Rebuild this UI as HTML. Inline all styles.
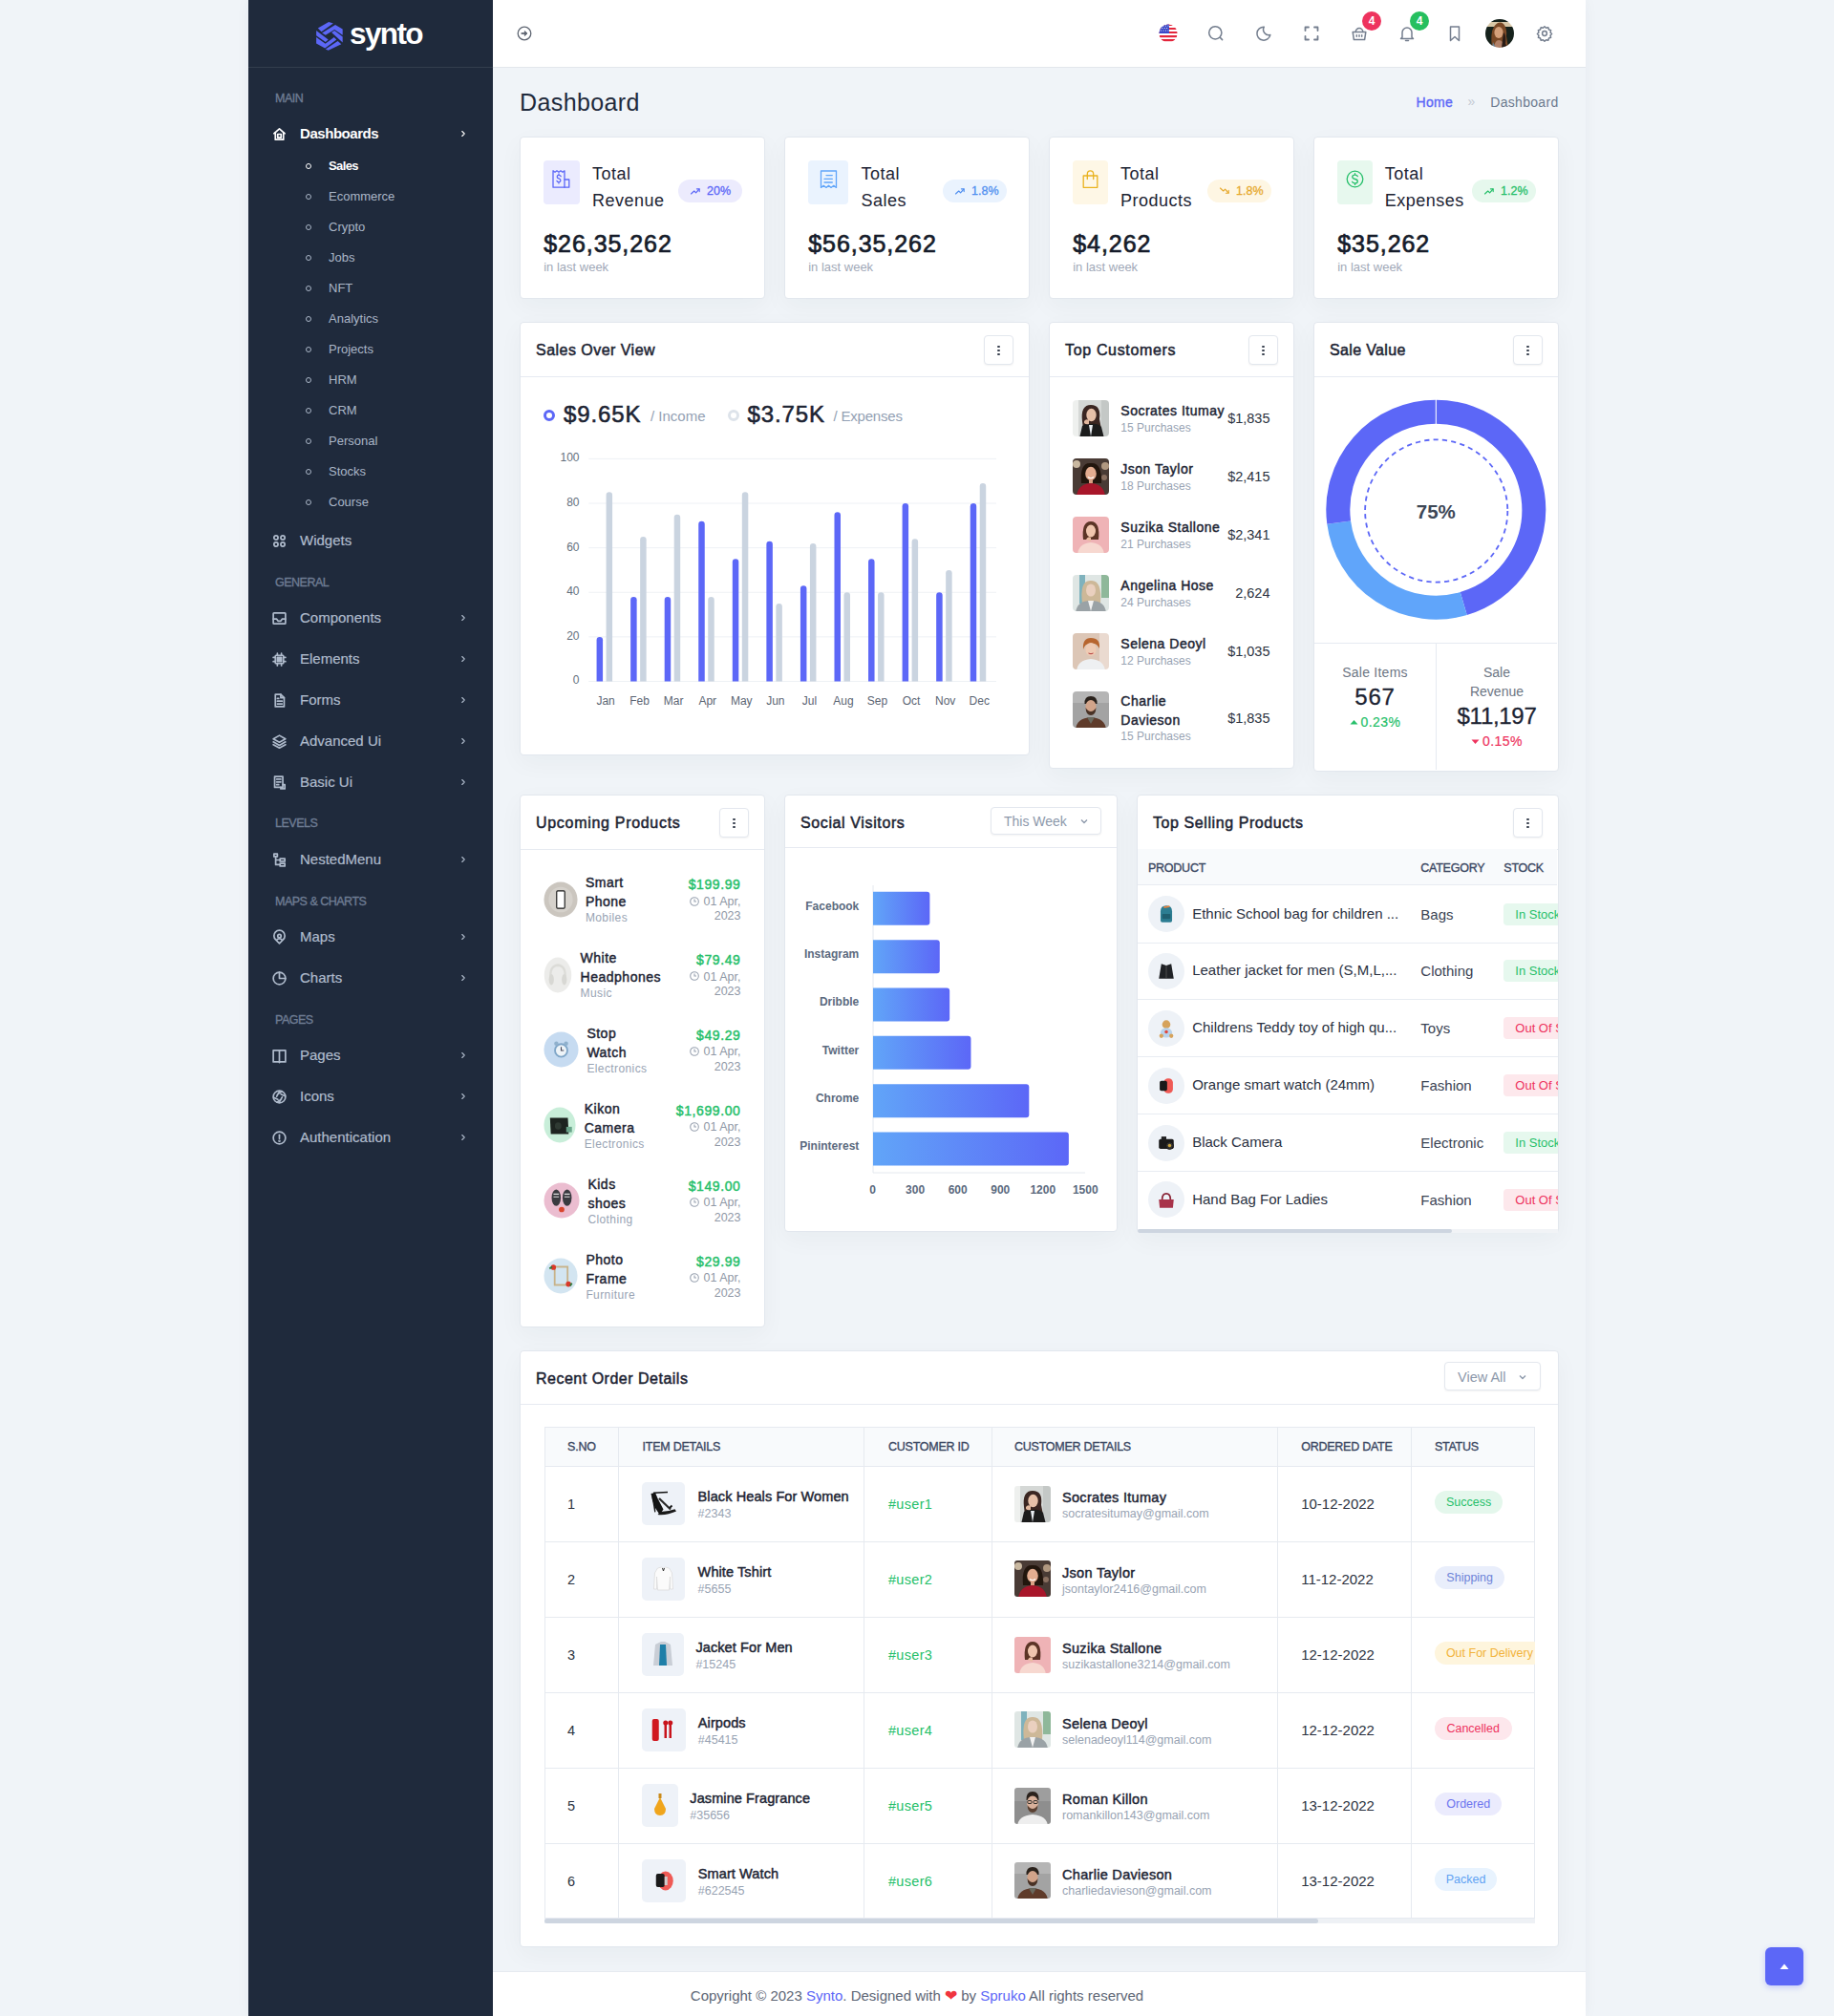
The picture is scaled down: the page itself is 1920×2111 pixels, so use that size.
<!DOCTYPE html><html><head><meta charset="utf-8"><style>
*{box-sizing:border-box;margin:0;padding:0}
html,body{width:1920px;height:2111px;overflow:hidden}
body{background:#f0f4f8;font-family:"Liberation Sans",sans-serif;color:#1d2433;position:relative}
.abs{position:absolute}
.nw{white-space:nowrap}
svg{display:block}
#sb{position:absolute;left:260px;top:0;width:256px;height:2111px;background:#1f2a3c;z-index:5}
#sb .logo{position:absolute;left:0;top:0;width:256px;height:71px;border-bottom:1px solid rgba(255,255,255,.09)}
.cat{position:absolute;left:28px;font-size:12.5px;color:#6e7c93;-webkit-text-stroke:.35px #6e7c93;letter-spacing:-.5px;line-height:14px;white-space:nowrap}
.mi{position:absolute;left:24px;width:208px;height:20px;line-height:20px;font-size:15px;color:#afbbcc;-webkit-text-stroke:.2px currentColor}
.mi svg{position:absolute;left:0;top:2px}
.mi span{position:absolute;left:30px;top:0;white-space:nowrap}
.mi svg.chev{left:196px;top:5px}
.sub{position:absolute;left:60px;width:150px;height:16px;line-height:16px;font-size:13px;color:#aab6c7}
.sub i{position:absolute;left:0;top:5px;width:6px;height:6px;border:1.3px solid #aab6c7;border-radius:50%}
.sub span{position:absolute;left:24px;top:0;white-space:nowrap}
#hd{position:absolute;left:516px;top:0;width:1144px;height:71px;background:#fff;border-bottom:1px solid #e2e6ec;z-index:3}
.hi{position:absolute}
.bn{position:absolute;top:12px;width:20px;height:20px;border-radius:50%;color:#fff;font-size:12px;font-weight:bold;text-align:center;line-height:20px}
.card{position:absolute;background:#fff;border:1px solid #e2e7ee;border-radius:4px;box-shadow:0 8px 26px rgba(30,41,59,.04)}
.ch{position:absolute;left:0;top:0;right:0;height:57px;border-bottom:1px solid #e6eaf1}
.ct{position:absolute;left:16px;top:20px;font-size:16px;-webkit-text-stroke:.5px #1d2433;letter-spacing:.45px;color:#1d2433;line-height:18px;white-space:nowrap}
.keb{position:absolute;top:12.5px;right:16px;width:31px;height:31px;border:1px solid #e3e7ee;border-radius:4px;box-shadow:0 1px 2px rgba(0,0,0,.05);background:#fff}
.keb i{position:absolute;left:13.3px;width:2.4px;height:2.4px;border-radius:50%;background:#3a4250}
.stat .ib{position:absolute;left:24px;top:24px;width:38px;height:45.5px;border-radius:4px}
.stat .ib svg{position:absolute;left:9.5px;top:9.5px}
.stat .tt{position:absolute;left:74.5px;top:23.8px;letter-spacing:.5px;font-size:18px;line-height:28px;color:#1d2433;white-space:nowrap}
.stat .bd{position:absolute;right:23px;top:44px;width:67px;height:24px;border-radius:12px;font-size:12.5px;line-height:24px}
.stat .bd svg{position:absolute;left:12px;top:7px}
.stat .bd span{position:absolute;left:30px;top:0;-webkit-text-stroke:.3px currentColor}
.stat .val{position:absolute;left:24.2px;top:97.3px;font-size:25px;-webkit-text-stroke:.7px #161c2a;line-height:28px;color:#161c2a;letter-spacing:.95px;white-space:nowrap}
.stat .lw{position:absolute;left:24.2px;top:128px;font-size:13px;line-height:16px;color:#a1a9b8;white-space:nowrap}
</style></head><body><div class="abs" style="left:260px;top:0;width:1400px;height:2111px;box-shadow:0 0 14px rgba(30,41,59,.045)"></div><div id="sb"><div class="logo">
<svg class="abs" style="left:68px;top:20px" width="34" height="36" viewBox="0 0 34 36"><g fill="#5c67f7">
      <path d="M4.8 9.6 L16.1 3.1 L20.9 4.6 L8.5 13.3 Z"/>
      <path d="M9.1 14.4 L23 6.1 L30.7 10.4 L30.7 16.7 L22.2 11.1 L12.8 16.7 Z"/>
      <path d="M19.1 14.1 L22.2 12 L30.7 18.5 L30.7 24.6 Z"/>
      <path d="M3.1 12 L15.7 21.5 L12.8 23.9 L3.1 17.2 Z"/>
      <path d="M3.1 18.9 L12.6 25.7 L21.7 19.1 L24.3 21.5 L12.2 30.4 L3.1 25.6 Z"/>
      <path d="M12.8 31.5 L25.6 23.1 L29.3 26.3 L15.7 32.8 Z"/></g></svg>
<div class="abs" style="left:106px;top:16.5px;font-size:31.5px;font-weight:bold;color:#fff;letter-spacing:-1.6px;line-height:36px">synto</div>
</div>
<div class="cat" style="top:95.6px">MAIN</div>
<div class="cat" style="top:602.6px">GENERAL</div>
<div class="cat" style="top:855.3px">LEVELS</div>
<div class="cat" style="top:936.8px">MAPS &amp; CHARTS</div>
<div class="cat" style="top:1060.5px">PAGES</div>
<div class="mi" style="top:129.8px;color:#ffffff;font-weight:bold;letter-spacing:-.45px;-webkit-text-stroke:0px"><svg width="17" height="17" viewBox="0 0 24 24" fill="none" stroke="#ffffff" stroke-width="2.4" stroke-linecap="round" stroke-linejoin="round" ><path d="M4 11 L12 4 L20 11"/><path d="M6 9.5 V20 H18 V9.5"/><rect x="9.5" y="12" width="5" height="5"/></svg><span>Dashboards</span><svg class="chev" width="10" height="10" viewBox="0 0 24 24" fill="none" stroke="#ffffff" stroke-width="2.6" stroke-linecap="round" stroke-linejoin="round" ><path d="M9 6 L15 12 L9 18"/></svg></div>
<div class="mi" style="top:556.3px;color:#afbbcc"><svg width="17" height="17" viewBox="0 0 24 24" fill="none" stroke="#afbbcc" stroke-width="2.4" stroke-linecap="round" stroke-linejoin="round" ><circle cx="7" cy="7" r="3"/><circle cx="17" cy="7" r="3"/><circle cx="7" cy="17" r="3"/><circle cx="17" cy="17" r="3"/></svg><span>Widgets</span></div>
<div class="mi" style="top:637.1px;color:#afbbcc"><svg width="17" height="17" viewBox="0 0 24 24" fill="none" stroke="#afbbcc" stroke-width="2.4" stroke-linecap="round" stroke-linejoin="round" ><rect x="3" y="4" width="18" height="16" rx="1"/><path d="M3 13 H8 L10 16 H14 L16 13 H21"/></svg><span>Components</span><svg class="chev" width="10" height="10" viewBox="0 0 24 24" fill="none" stroke="#afbbcc" stroke-width="2.6" stroke-linecap="round" stroke-linejoin="round" ><path d="M9 6 L15 12 L9 18"/></svg></div>
<div class="mi" style="top:680.0px;color:#afbbcc"><svg width="17" height="17" viewBox="0 0 24 24" fill="none" stroke="#afbbcc" stroke-width="2.4" stroke-linecap="round" stroke-linejoin="round" ><rect x="6" y="6" width="12" height="12" rx="1"/><rect x="9" y="9" width="6" height="6" fill="currentColor"/><path d="M9 3v3M15 3v3M9 18v3M15 18v3M3 9h3M3 15h3M18 9h3M18 15h3"/></svg><span>Elements</span><svg class="chev" width="10" height="10" viewBox="0 0 24 24" fill="none" stroke="#afbbcc" stroke-width="2.6" stroke-linecap="round" stroke-linejoin="round" ><path d="M9 6 L15 12 L9 18"/></svg></div>
<div class="mi" style="top:723.0px;color:#afbbcc"><svg width="17" height="17" viewBox="0 0 24 24" fill="none" stroke="#afbbcc" stroke-width="2.4" stroke-linecap="round" stroke-linejoin="round" ><path d="M6 3 H14 L19 8 V21 H6 Z"/><path d="M14 3 V8 H19"/><path d="M9 13 H16 M9 17 H16 M9 9 H11"/></svg><span>Forms</span><svg class="chev" width="10" height="10" viewBox="0 0 24 24" fill="none" stroke="#afbbcc" stroke-width="2.6" stroke-linecap="round" stroke-linejoin="round" ><path d="M9 6 L15 12 L9 18"/></svg></div>
<div class="mi" style="top:766.0px;color:#afbbcc"><svg width="17" height="17" viewBox="0 0 24 24" fill="none" stroke="#afbbcc" stroke-width="2.4" stroke-linecap="round" stroke-linejoin="round" ><path d="M12 3 L21 8 L12 13 L3 8 Z"/><path d="M3 12.5 L12 17.5 L21 12.5"/><path d="M3 16.5 L12 21.5 L21 16.5"/></svg><span>Advanced Ui</span><svg class="chev" width="10" height="10" viewBox="0 0 24 24" fill="none" stroke="#afbbcc" stroke-width="2.6" stroke-linecap="round" stroke-linejoin="round" ><path d="M9 6 L15 12 L9 18"/></svg></div>
<div class="mi" style="top:809.0px;color:#afbbcc"><svg width="17" height="17" viewBox="0 0 24 24" fill="none" stroke="#afbbcc" stroke-width="2.4" stroke-linecap="round" stroke-linejoin="round" ><path d="M5 3 H17 V19 H5 Z"/><path d="M8 7 H14 M8 11 H14 M8 15 H11"/><path d="M17 15 H20 V21 H14 V19"/></svg><span>Basic Ui</span><svg class="chev" width="10" height="10" viewBox="0 0 24 24" fill="none" stroke="#afbbcc" stroke-width="2.6" stroke-linecap="round" stroke-linejoin="round" ><path d="M9 6 L15 12 L9 18"/></svg></div>
<div class="mi" style="top:890.2px;color:#afbbcc"><svg width="17" height="17" viewBox="0 0 24 24" fill="none" stroke="#afbbcc" stroke-width="2.4" stroke-linecap="round" stroke-linejoin="round" ><rect x="4" y="3" width="5" height="4"/><rect x="13" y="10" width="7" height="4"/><rect x="13" y="17" width="7" height="4"/><path d="M6.5 7 V19 H13 M6.5 12 H13"/></svg><span>NestedMenu</span><svg class="chev" width="10" height="10" viewBox="0 0 24 24" fill="none" stroke="#afbbcc" stroke-width="2.6" stroke-linecap="round" stroke-linejoin="round" ><path d="M9 6 L15 12 L9 18"/></svg></div>
<div class="mi" style="top:971.2px;color:#afbbcc"><svg width="17" height="17" viewBox="0 0 24 24" fill="none" stroke="#afbbcc" stroke-width="2.4" stroke-linecap="round" stroke-linejoin="round" ><path d="M12 21 L6.5 15.5 A8 8 0 1 1 17.5 15.5 Z"/><circle cx="12" cy="10" r="2.5"/><path d="M8 16 A5 5 0 0 1 16 16"/></svg><span>Maps</span><svg class="chev" width="10" height="10" viewBox="0 0 24 24" fill="none" stroke="#afbbcc" stroke-width="2.6" stroke-linecap="round" stroke-linejoin="round" ><path d="M9 6 L15 12 L9 18"/></svg></div>
<div class="mi" style="top:1014.2px;color:#afbbcc"><svg width="17" height="17" viewBox="0 0 24 24" fill="none" stroke="#afbbcc" stroke-width="2.4" stroke-linecap="round" stroke-linejoin="round" ><circle cx="12" cy="12" r="9"/><path d="M12 3 V12 H21"/></svg><span>Charts</span><svg class="chev" width="10" height="10" viewBox="0 0 24 24" fill="none" stroke="#afbbcc" stroke-width="2.6" stroke-linecap="round" stroke-linejoin="round" ><path d="M9 6 L15 12 L9 18"/></svg></div>
<div class="mi" style="top:1095.2px;color:#afbbcc"><svg width="17" height="17" viewBox="0 0 24 24" fill="none" stroke="#afbbcc" stroke-width="2.4" stroke-linecap="round" stroke-linejoin="round" ><path d="M3 4 H12 V21 H3 Z"/><path d="M12 4 H21 V21 H12"/><path d="M12 21 V22"/></svg><span>Pages</span><svg class="chev" width="10" height="10" viewBox="0 0 24 24" fill="none" stroke="#afbbcc" stroke-width="2.6" stroke-linecap="round" stroke-linejoin="round" ><path d="M9 6 L15 12 L9 18"/></svg></div>
<div class="mi" style="top:1138.2px;color:#afbbcc"><svg width="17" height="17" viewBox="0 0 24 24" fill="none" stroke="#afbbcc" stroke-width="2.4" stroke-linecap="round" stroke-linejoin="round" ><circle cx="12" cy="12" r="9"/><path d="M14.3 8 L20.5 11 M9.7 16 L3.5 13 M16 12.5 L12.5 19 M8 11.5 L11.5 5 M15 15.3 L8.5 20 M9 8.7 L15.5 4"/></svg><span>Icons</span><svg class="chev" width="10" height="10" viewBox="0 0 24 24" fill="none" stroke="#afbbcc" stroke-width="2.6" stroke-linecap="round" stroke-linejoin="round" ><path d="M9 6 L15 12 L9 18"/></svg></div>
<div class="mi" style="top:1181.2px;color:#afbbcc"><svg width="17" height="17" viewBox="0 0 24 24" fill="none" stroke="#afbbcc" stroke-width="2.4" stroke-linecap="round" stroke-linejoin="round" ><circle cx="12" cy="12" r="9"/><path d="M12 7.5 V13"/><circle cx="12" cy="16.5" r="0.6" fill="currentColor"/></svg><span>Authentication</span><svg class="chev" width="10" height="10" viewBox="0 0 24 24" fill="none" stroke="#afbbcc" stroke-width="2.6" stroke-linecap="round" stroke-linejoin="round" ><path d="M9 6 L15 12 L9 18"/></svg></div>
<div class="sub" style="top:165.8px;color:#fff;font-weight:bold;letter-spacing:-.6px"><i style="border-color:#fff"></i><span>Sales</span></div>
<div class="sub" style="top:197.8px"><i></i><span>Ecommerce</span></div>
<div class="sub" style="top:229.8px"><i></i><span>Crypto</span></div>
<div class="sub" style="top:261.8px"><i></i><span>Jobs</span></div>
<div class="sub" style="top:293.8px"><i></i><span>NFT</span></div>
<div class="sub" style="top:325.8px"><i></i><span>Analytics</span></div>
<div class="sub" style="top:357.8px"><i></i><span>Projects</span></div>
<div class="sub" style="top:389.8px"><i></i><span>HRM</span></div>
<div class="sub" style="top:421.8px"><i></i><span>CRM</span></div>
<div class="sub" style="top:453.8px"><i></i><span>Personal</span></div>
<div class="sub" style="top:485.8px"><i></i><span>Stocks</span></div>
<div class="sub" style="top:517.8px"><i></i><span>Course</span></div>
</div><div id="hd">
<svg class="hi" style="left:25px;top:27px" width="16" height="16" viewBox="0 0 16 16" fill="none" stroke="#5f6672" stroke-width="1.3"><circle cx="8" cy="8" r="6.8"/><path d="M4.6 8 H10.2" stroke-width="1.8"/><path d="M8.3 5.6 L10.9 8 L8.3 10.4 Z" fill="#5f6672" stroke-width="1"/></svg>
<svg class="hi" style="left:696.8px;top:25px" width="20" height="20" viewBox="0 0 20 20">
      <defs><clipPath id="fc"><circle cx="10" cy="10" r="9.6"/></clipPath></defs>
      <g clip-path="url(#fc)"><rect width="20" height="20" fill="#fff"/>
      <rect y="0" width="20" height="2" fill="#e3263c"/><rect y="4" width="20" height="2" fill="#e3263c"/>
      <rect y="8" width="20" height="2" fill="#e3263c"/><rect y="12" width="20" height="2.2" fill="#e3263c"/>
      <rect y="16" width="20" height="2.2" fill="#e3263c"/>
      <rect x="0" y="0" width="11" height="10" fill="#3b48c8"/>
      <g fill="#fff"><circle cx="2.5" cy="2" r=".6"/><circle cx="5" cy="2" r=".6"/><circle cx="7.5" cy="2" r=".6"/><circle cx="10" cy="2" r=".6"/>
      <circle cx="3.7" cy="4.5" r=".6"/><circle cx="6.2" cy="4.5" r=".6"/><circle cx="8.7" cy="4.5" r=".6"/>
      <circle cx="2.5" cy="7" r=".6"/><circle cx="5" cy="7" r=".6"/><circle cx="7.5" cy="7" r=".6"/><circle cx="10" cy="7" r=".6"/></g></g></svg>
<svg class="hi" style="left:746.5px;top:25px" width="20" height="20" viewBox="0 0 20 20" fill="none" stroke="#747e8e" stroke-width="1.5" stroke-linecap="round" stroke-linejoin="round"><circle cx="9.3" cy="9.3" r="6.6"/><path d="M14.6 14.6 L16.6 16.6"/></svg>
<svg class="hi" style="left:796.8px;top:25px" width="20" height="20" viewBox="0 0 20 20" fill="none" stroke="#747e8e" stroke-width="1.5" stroke-linecap="round" stroke-linejoin="round"><path d="M10.3 3.2 A7 7 0 1 0 16.8 11.6 A5.8 5.8 0 0 1 10.3 3.2 Z"/></svg>
<svg class="hi" style="left:847.0px;top:25px" width="20" height="20" viewBox="0 0 20 20" fill="none" stroke="#747e8e" stroke-width="1.8" stroke-linecap="round" stroke-linejoin="round"><path d="M3.5 7 V3.5 H7 M13 3.5 H16.5 V7 M16.5 13 V16.5 H13 M7 16.5 H3.5 V13"/></svg>
<svg class="hi" style="left:896.7px;top:25px" width="20" height="20" viewBox="0 0 20 20" fill="none" stroke="#747e8e" stroke-width="1.5" stroke-linecap="round" stroke-linejoin="round"><path d="M3.2 8.6 H16.8 L15.6 16.6 H4.4 Z"/><path d="M6.2 8.6 A3.8 4.2 0 0 1 13.8 8.6"/><path d="M7.3 11.8 V13.2 M10 11.8 V13.2 M12.7 11.8 V13.2"/></svg>
<svg class="hi" style="left:947.0px;top:25px" width="20" height="20" viewBox="0 0 20 20" fill="none" stroke="#747e8e" stroke-width="1.5" stroke-linecap="round" stroke-linejoin="round"><path d="M5 14 V9 A5 5 0 0 1 15 9 V14 L16.5 15.5 H3.5 Z"/><path d="M8.5 17.5 H11.5"/></svg>
<svg class="hi" style="left:996.7px;top:25px" width="20" height="20" viewBox="0 0 20 20" fill="none" stroke="#747e8e" stroke-width="1.5" stroke-linecap="round" stroke-linejoin="round"><path d="M5.5 3 H14.5 V17.5 L10 13.5 L5.5 17.5 Z"/></svg>
<svg class="hi" style="left:1091.0px;top:25px" width="20" height="20" viewBox="0 0 20 20" fill="none" stroke="#747e8e" stroke-width="1.5" stroke-linecap="round" stroke-linejoin="round"><circle cx="10" cy="10" r="2.4"/><path d="M10 2.8 L11.6 4.3 L13.8 3.8 L14.5 6 L16.6 6.7 L16.1 8.9 L17.6 10.5 L16.1 12.1 L16.6 14.3 L14.5 15 L13.8 17.2 L11.6 16.7 L10 18.2 L8.4 16.7 L6.2 17.2 L5.5 15 L3.4 14.3 L3.9 12.1 L2.4 10.5 L3.9 8.9 L3.4 6.7 L5.5 6 L6.2 3.8 L8.4 4.3 Z"/></svg>
<svg class="hi" style="left:1038.8px;top:20px" width="30" height="30" viewBox="0 0 30 30">
      <defs><clipPath id="av0"><circle cx="15" cy="15" r="15"/></clipPath><filter id="avb"><feGaussianBlur stdDeviation=".6"/></filter></defs>
      <g clip-path="url(#av0)"><g filter="url(#avb)"><rect width="30" height="30" fill="#15201a"/><rect x="0" y="3" width="30" height="5" fill="#d8c8a8"/>
      <path d="M7 30 Q5 14 9 8 Q14 1 19 5 Q23 9 22 18 L24 30 Z" fill="#7a4a26"/>
      <ellipse cx="14" cy="14" rx="4.6" ry="6" fill="#d4a07a"/>
      <path d="M9 30 Q10 22 14 22 Q19 22 20 30 Z" fill="#b08068"/><path d="M7 30 L8 24 L11 30 Z" fill="#6b8090"/>
      <path d="M19 14 Q22 16 21 26 L24 30 L17 30 Z" fill="#2a1a14"/></g></g></svg>
<div class="bn" style="left:910px;background:#ee335e">4</div>
<div class="bn" style="left:960px;background:#26bf5f">4</div>
</div><div class="abs nw" style="left:544px;top:91px;font-size:25px;line-height:32px;color:#1f2a3c;letter-spacing:.4px">Dashboard</div>
<div class="abs nw" style="left:1482.60px;top:97.85px;font-size:14px;line-height:18px;color:#5c67f7;-webkit-text-stroke:.35px #5c67f7;letter-spacing:.3px">Home</div>
<div class="abs nw" style="left:1536.50px;top:97.35px;font-size:14px;line-height:18px;color:#c3c9d3">&raquo;</div>
<div class="abs nw" style="left:1511.50px;width:120px;top:97.85px;font-size:14px;line-height:18px;text-align:right;color:#6c7a8e;letter-spacing:.3px">Dashboard</div>
<div class="card stat" style="left:544px;top:143px;width:257px;height:170px">
<div class="ib" style="left:24.2px;width:37.5px;background:#ebebfe"><svg style="left:9.25px" width="19" height="19" viewBox="0 0 19 19" fill="none" stroke="#5c67f7" stroke-width="1.3" stroke-linecap="round" stroke-linejoin="round" ><path d="M1 0.8 V18.2 H13 V0.8 L11 2.3 L9 0.8 L7 2.3 L5 0.8 L3 2.3 Z"/><path d="M13 10 H17.8 V18.2 H13"/><path d="M9.2 6.6 Q8.6 5.4 7 5.4 Q5.2 5.4 5.2 7 Q5.2 8.5 7 8.9 Q8.9 9.3 8.9 10.9 Q8.9 12.6 7 12.6 Q5.5 12.6 5 11.4 M7 4 V5.4 M7 12.6 V14"/></svg></div>
<div class="tt" style="left:75.0px">Total<br>Revenue</div>
<div class="bd" style="background:#ecebfd;color:#5c67f7"><svg width="12" height="10" viewBox="0 0 12 10" fill="none" stroke="#5c67f7" stroke-width="1.15" stroke-linecap="round" stroke-linejoin="round"><path d="M1.5 8 L4.7 5 L6.6 6.8 L10 3"/><path d="M7.4 2.8 H10.2 V5.6"/></svg><span>20%</span></div>
<div class="val">$26,35,262</div><div class="lw">in last week</div>
</div>
<div class="card stat" style="left:821px;top:143px;width:257px;height:170px">
<div class="ib" style="left:23.8px;width:42.5px;background:#eaf3fe"><svg style="left:11.75px" width="19" height="19" viewBox="0 0 19 19" fill="none" stroke="#60a5fa" stroke-width="1.3" stroke-linecap="round" stroke-linejoin="round" ><path d="M1.5 1 H17.5 V18.5 L14.8 16.3 L12 18.5 L9.5 16.3 L7 18.5 L4.2 16.3 L1.5 18.5 Z"/><path d="M7 5.6 H13.3 M5 9.4 H13.3 M5 13 H13.3"/></svg></div>
<div class="tt" style="left:79.60000000000001px">Total<br>Sales</div>
<div class="bd" style="background:#eaf3fe;color:#4f8ff0"><svg width="12" height="10" viewBox="0 0 12 10" fill="none" stroke="#4f8ff0" stroke-width="1.15" stroke-linecap="round" stroke-linejoin="round"><path d="M1.5 8 L4.7 5 L6.6 6.8 L10 3"/><path d="M7.4 2.8 H10.2 V5.6"/></svg><span>1.8%</span></div>
<div class="val">$56,35,262</div><div class="lw">in last week</div>
</div>
<div class="card stat" style="left:1098px;top:143px;width:257px;height:170px">
<div class="ib" style="left:24.2px;width:37px;background:#fef7e6"><svg style="left:9.00px" width="19" height="19" viewBox="0 0 19 19" fill="none" stroke="#e9b21f" stroke-width="1.3" stroke-linecap="round" stroke-linejoin="round" ><path d="M2.2 6 H16.8 V18.3 H2.2 Z"/><path d="M6.3 9.5 V4.3 Q6.3 0.9 9.5 0.9 Q12.7 0.9 12.7 4.3 V9.5"/></svg></div>
<div class="tt" style="left:74.0px">Total<br>Products</div>
<div class="bd" style="background:#fef6e3;color:#e7a92e"><svg width="12" height="10" viewBox="0 0 12 10" fill="none" stroke="#e7a92e" stroke-width="1.15" stroke-linecap="round" stroke-linejoin="round"><path d="M1.5 2 L4.7 5 L6.6 3.2 L10 7"/><path d="M7.4 7.2 H10.2 V4.4"/></svg><span>1.8%</span></div>
<div class="val">$4,262</div><div class="lw">in last week</div>
</div>
<div class="card stat" style="left:1375px;top:143px;width:257px;height:170px">
<div class="ib" style="left:24.1px;width:36.6px;background:#e7f8ee"><svg style="left:8.80px" width="19" height="19" viewBox="0 0 19 19" fill="none" stroke="#26bf6a" stroke-width="1.3" stroke-linecap="round" stroke-linejoin="round" ><circle cx="9.5" cy="9.5" r="8.3"/><path d="M12.3 6.6 Q11.5 5.2 9.5 5.2 Q6.8 5.2 6.8 7.3 Q6.8 9 9.5 9.5 Q12.3 10 12.3 12 Q12.3 13.9 9.5 13.9 Q7.3 13.9 6.6 12.3 M9.5 3.7 V5.2 M9.5 13.9 V15.4"/></svg></div>
<div class="tt" style="left:73.7px">Total<br>Expenses</div>
<div class="bd" style="background:#e6f8ed;color:#26bf6a"><svg width="12" height="10" viewBox="0 0 12 10" fill="none" stroke="#26bf6a" stroke-width="1.15" stroke-linecap="round" stroke-linejoin="round"><path d="M1.5 8 L4.7 5 L6.6 6.8 L10 3"/><path d="M7.4 2.8 H10.2 V5.6"/></svg><span>1.2%</span></div>
<div class="val">$35,262</div><div class="lw">in last week</div>
</div><div class="card" style="left:544px;top:337px;width:534px;height:454px"><div class="ch"><div class="ct" style="letter-spacing:0.47px">Sales Over View</div><div class="keb"><i style="top:10.5px"></i><i style="top:14.5px"></i><i style="top:18.5px"></i></div></div></div>
<div class="abs" style="left:569px;top:429px;width:12px;height:12px;border-radius:50%;border:3.2px solid #5c67f7;background:#fff"></div>
<div class="abs nw" style="left:590.00px;top:419.28px;font-size:24px;line-height:30px;color:#1d2433;letter-spacing:.9px;-webkit-text-stroke:.55px #1d2433">$9.65K</div>
<div class="abs nw" style="left:681.00px;top:425.50px;font-size:15px;line-height:19px;color:#93a1b4">/ Income</div>
<div class="abs" style="left:762px;top:429px;width:12px;height:12px;border-radius:50%;border:3.2px solid #dde3ea;background:#fff"></div>
<div class="abs nw" style="left:782.50px;top:419.28px;font-size:24px;line-height:30px;color:#1d2433;letter-spacing:.9px;-webkit-text-stroke:.55px #1d2433">$3.75K</div>
<div class="abs nw" style="left:872.50px;top:425.50px;font-size:15px;line-height:19px;color:#93a1b4;letter-spacing:-.2px">/ Expenses</div>
<svg class="abs" style="left:0;top:0" width="1920" height="800" viewBox="0 0 1920 800"><line x1="616.3" x2="1043" y1="480.40" y2="480.40" stroke="#eef1f5" stroke-width="1"/><line x1="616.3" x2="1043" y1="527.02" y2="527.02" stroke="#eef1f5" stroke-width="1"/><line x1="616.3" x2="1043" y1="573.64" y2="573.64" stroke="#eef1f5" stroke-width="1"/><line x1="616.3" x2="1043" y1="620.26" y2="620.26" stroke="#eef1f5" stroke-width="1"/><line x1="616.3" x2="1043" y1="666.88" y2="666.88" stroke="#eef1f5" stroke-width="1"/><line x1="616.3" x2="1043" y1="713.50" y2="713.50" stroke="#eef1f5" stroke-width="1"/><path d="M624.58 713.5 V670.13 A3.25 3.25 0 0 1 631.08 670.13 V713.5 Z" fill="#5c67f7"/><path d="M634.58 713.5 V518.62 A3.25 3.25 0 0 1 641.08 518.62 V713.5 Z" fill="#cad4e0"/><path d="M660.14 713.5 V628.17 A3.25 3.25 0 0 1 666.64 628.17 V713.5 Z" fill="#5c67f7"/><path d="M670.14 713.5 V565.24 A3.25 3.25 0 0 1 676.64 565.24 V713.5 Z" fill="#cad4e0"/><path d="M695.70 713.5 V628.17 A3.25 3.25 0 0 1 702.20 628.17 V713.5 Z" fill="#5c67f7"/><path d="M705.70 713.5 V541.92 A3.25 3.25 0 0 1 712.20 541.92 V713.5 Z" fill="#cad4e0"/><path d="M731.25 713.5 V548.92 A3.25 3.25 0 0 1 737.75 548.92 V713.5 Z" fill="#5c67f7"/><path d="M741.25 713.5 V628.17 A3.25 3.25 0 0 1 747.75 628.17 V713.5 Z" fill="#cad4e0"/><path d="M766.81 713.5 V588.54 A3.25 3.25 0 0 1 773.31 588.54 V713.5 Z" fill="#5c67f7"/><path d="M776.81 713.5 V518.62 A3.25 3.25 0 0 1 783.31 518.62 V713.5 Z" fill="#cad4e0"/><path d="M802.37 713.5 V569.90 A3.25 3.25 0 0 1 808.87 569.90 V713.5 Z" fill="#5c67f7"/><path d="M812.37 713.5 V635.16 A3.25 3.25 0 0 1 818.87 635.16 V713.5 Z" fill="#cad4e0"/><path d="M837.93 713.5 V616.52 A3.25 3.25 0 0 1 844.43 616.52 V713.5 Z" fill="#5c67f7"/><path d="M847.93 713.5 V572.23 A3.25 3.25 0 0 1 854.43 572.23 V713.5 Z" fill="#cad4e0"/><path d="M873.49 713.5 V539.59 A3.25 3.25 0 0 1 879.99 539.59 V713.5 Z" fill="#5c67f7"/><path d="M883.49 713.5 V623.51 A3.25 3.25 0 0 1 889.99 623.51 V713.5 Z" fill="#cad4e0"/><path d="M909.05 713.5 V588.54 A3.25 3.25 0 0 1 915.55 588.54 V713.5 Z" fill="#5c67f7"/><path d="M919.05 713.5 V623.51 A3.25 3.25 0 0 1 925.55 623.51 V713.5 Z" fill="#cad4e0"/><path d="M944.60 713.5 V530.27 A3.25 3.25 0 0 1 951.10 530.27 V713.5 Z" fill="#5c67f7"/><path d="M954.60 713.5 V567.57 A3.25 3.25 0 0 1 961.10 567.57 V713.5 Z" fill="#cad4e0"/><path d="M980.16 713.5 V623.51 A3.25 3.25 0 0 1 986.66 623.51 V713.5 Z" fill="#5c67f7"/><path d="M990.16 713.5 V600.20 A3.25 3.25 0 0 1 996.66 600.20 V713.5 Z" fill="#cad4e0"/><path d="M1015.72 713.5 V530.27 A3.25 3.25 0 0 1 1022.22 530.27 V713.5 Z" fill="#5c67f7"/><path d="M1025.72 713.5 V509.29 A3.25 3.25 0 0 1 1032.22 509.29 V713.5 Z" fill="#cad4e0"/></svg>
<div class="abs nw" style="left:566.50px;width:40px;top:472.34px;font-size:12px;line-height:15px;text-align:right;color:#646f7d">100</div>
<div class="abs nw" style="left:566.50px;width:40px;top:518.96px;font-size:12px;line-height:15px;text-align:right;color:#646f7d">80</div>
<div class="abs nw" style="left:566.50px;width:40px;top:565.58px;font-size:12px;line-height:15px;text-align:right;color:#646f7d">60</div>
<div class="abs nw" style="left:566.50px;width:40px;top:612.20px;font-size:12px;line-height:15px;text-align:right;color:#646f7d">40</div>
<div class="abs nw" style="left:566.50px;width:40px;top:658.82px;font-size:12px;line-height:15px;text-align:right;color:#646f7d">20</div>
<div class="abs nw" style="left:566.50px;width:40px;top:705.44px;font-size:12px;line-height:15px;text-align:right;color:#646f7d">0</div>
<div class="abs nw" style="left:614.08px;width:40px;top:726.74px;font-size:12px;line-height:15px;text-align:center;color:#5b6573">Jan</div>
<div class="abs nw" style="left:649.64px;width:40px;top:726.74px;font-size:12px;line-height:15px;text-align:center;color:#5b6573">Feb</div>
<div class="abs nw" style="left:685.20px;width:40px;top:726.74px;font-size:12px;line-height:15px;text-align:center;color:#5b6573">Mar</div>
<div class="abs nw" style="left:720.75px;width:40px;top:726.74px;font-size:12px;line-height:15px;text-align:center;color:#5b6573">Apr</div>
<div class="abs nw" style="left:756.31px;width:40px;top:726.74px;font-size:12px;line-height:15px;text-align:center;color:#5b6573">May</div>
<div class="abs nw" style="left:791.87px;width:40px;top:726.74px;font-size:12px;line-height:15px;text-align:center;color:#5b6573">Jun</div>
<div class="abs nw" style="left:827.43px;width:40px;top:726.74px;font-size:12px;line-height:15px;text-align:center;color:#5b6573">Jul</div>
<div class="abs nw" style="left:862.99px;width:40px;top:726.74px;font-size:12px;line-height:15px;text-align:center;color:#5b6573">Aug</div>
<div class="abs nw" style="left:898.55px;width:40px;top:726.74px;font-size:12px;line-height:15px;text-align:center;color:#5b6573">Sep</div>
<div class="abs nw" style="left:934.10px;width:40px;top:726.74px;font-size:12px;line-height:15px;text-align:center;color:#5b6573">Oct</div>
<div class="abs nw" style="left:969.66px;width:40px;top:726.74px;font-size:12px;line-height:15px;text-align:center;color:#5b6573">Nov</div>
<div class="abs nw" style="left:1005.22px;width:40px;top:726.74px;font-size:12px;line-height:15px;text-align:center;color:#5b6573">Dec</div>
<div class="card" style="left:1098px;top:337px;width:257px;height:468px"><div class="ch"><div class="ct" style="letter-spacing:0.66px">Top Customers</div><div class="keb"><i style="top:10.5px"></i><i style="top:14.5px"></i><i style="top:18.5px"></i></div></div></div>
<svg class="abs" style="left:1123px;top:418.8px" width="38" height="38" viewBox="0 0 38 38"><defs><clipPath id="af1"><rect width="38" height="38" rx="4"/></clipPath><filter id="bl1" x="-10%" y="-10%" width="120%" height="120%"><feGaussianBlur stdDeviation="0.45"/></filter></defs><g clip-path="url(#af1)"><g filter="url(#bl1)"><rect x="-2" y="-2" width="42" height="42" fill="#d5d8d6"/><rect x="0" y="0" width="6" height="38" fill="#eef0ee"/><rect x="30" y="0" width="8" height="38" fill="#c4c8c6"/><path d="M10 22 Q8 5 19 5 Q30 5 28 20 L30 30 H11 Z" fill="#3b2620"/><ellipse cx="19.5" cy="15.5" rx="5.2" ry="6.8" fill="#e7c0a8"/><path d="M7 40 L10 27 Q14 24 19 25 Q26 24 30 28 L33 40 Z" fill="#1d1d1f"/><path d="M17 26 L19 38 L21 26 Z" fill="#eaeef2"/><path d="M12 22 Q14 19 17 21 L17 25 Q14 26 12 24 Z" fill="#e2b89e"/></g></g></svg>
<div class="abs nw" style="left:1173.30px;top:420.95px;font-size:14px;line-height:18px;color:#1d2433;-webkit-text-stroke:.45px #1d2433;letter-spacing:.5px">Socrates Itumay</div>
<div class="abs nw" style="left:1173.30px;top:441.14px;font-size:12px;line-height:15px;color:#98a3b3">15 Purchases</div>
<div class="abs nw" style="left:1209.50px;width:120px;top:429.08px;font-size:14.5px;line-height:18px;text-align:right;color:#2b3240">$1,835</div>
<svg class="abs" style="left:1123px;top:479.8px" width="38" height="38" viewBox="0 0 38 38"><defs><clipPath id="af2"><rect width="38" height="38" rx="4"/></clipPath><filter id="bl2" x="-10%" y="-10%" width="120%" height="120%"><feGaussianBlur stdDeviation="0.45"/></filter></defs><g clip-path="url(#af2)"><g filter="url(#bl2)"><rect x="-2" y="-2" width="42" height="42" fill="#4a3a34"/><circle cx="4" cy="6" r="4" fill="#c9b8a0"/><circle cx="34" cy="8" r="4" fill="#b09880"/><circle cx="33" cy="20" r="3" fill="#8a7060"/><path d="M9 26 Q7 4 19 5 Q31 4 30 26 Z" fill="#24160f"/><ellipse cx="19" cy="16" rx="5.8" ry="7.2" fill="#e4ad90"/><path d="M16 19.5 Q19 22 22 19.5" stroke="#fff" stroke-width="1.2" fill="none"/><path d="M4 40 Q5 27 19 26 Q33 27 34 40 Z" fill="#a8142a"/><rect x="17" y="22" width="4" height="4" fill="#d9a083"/></g></g></svg>
<div class="abs nw" style="left:1173.30px;top:481.95px;font-size:14px;line-height:18px;color:#1d2433;-webkit-text-stroke:.45px #1d2433;letter-spacing:.5px">Json Taylor</div>
<div class="abs nw" style="left:1173.30px;top:502.14px;font-size:12px;line-height:15px;color:#98a3b3">18 Purchases</div>
<div class="abs nw" style="left:1209.50px;width:120px;top:490.08px;font-size:14.5px;line-height:18px;text-align:right;color:#2b3240">$2,415</div>
<svg class="abs" style="left:1123px;top:540.8px" width="38" height="38" viewBox="0 0 38 38"><defs><clipPath id="af3"><rect width="38" height="38" rx="4"/></clipPath><filter id="bl3" x="-10%" y="-10%" width="120%" height="120%"><feGaussianBlur stdDeviation="0.45"/></filter></defs><g clip-path="url(#af3)"><g filter="url(#bl3)"><rect x="-2" y="-2" width="42" height="42" fill="#efb3b6"/><path d="M11 24 Q9 5 19 5 Q29 5 27 24 Z" fill="#5b3426"/><ellipse cx="19" cy="15" rx="5" ry="6.5" fill="#efc6ae"/><path d="M5 40 Q6 28 19 27 Q32 28 33 40 Z" fill="#f7d8d0"/><path d="M14 24 Q16 20 19 22 L19 26 Z" fill="#eabba2"/></g></g></svg>
<div class="abs nw" style="left:1173.30px;top:542.95px;font-size:14px;line-height:18px;color:#1d2433;-webkit-text-stroke:.45px #1d2433;letter-spacing:.5px">Suzika Stallone</div>
<div class="abs nw" style="left:1173.30px;top:563.14px;font-size:12px;line-height:15px;color:#98a3b3">21 Purchases</div>
<div class="abs nw" style="left:1209.50px;width:120px;top:551.08px;font-size:14.5px;line-height:18px;text-align:right;color:#2b3240">$2,341</div>
<svg class="abs" style="left:1123px;top:601.8px" width="38" height="38" viewBox="0 0 38 38"><defs><clipPath id="af4"><rect width="38" height="38" rx="4"/></clipPath><filter id="bl4" x="-10%" y="-10%" width="120%" height="120%"><feGaussianBlur stdDeviation="0.45"/></filter></defs><g clip-path="url(#af4)"><g filter="url(#bl4)"><rect x="-2" y="-2" width="42" height="42" fill="#dfe6e4"/><rect x="7" y="0" width="6" height="30" fill="#7fb2bd"/><rect x="30" y="0" width="8" height="24" fill="#8fb89a"/><path d="M10 30 Q7 5 19 6 Q31 5 29 30 Z" fill="#cdb898"/><ellipse cx="19" cy="16" rx="5" ry="6.6" fill="#ead0bf"/><path d="M3 40 Q4 27 19 27 Q34 27 35 40 Z" fill="#9aa2a6"/><path d="M16 27 L19 38 L22 27 Z" fill="#f1f1f1"/></g></g></svg>
<div class="abs nw" style="left:1173.30px;top:603.95px;font-size:14px;line-height:18px;color:#1d2433;-webkit-text-stroke:.45px #1d2433;letter-spacing:.5px">Angelina Hose</div>
<div class="abs nw" style="left:1173.30px;top:624.14px;font-size:12px;line-height:15px;color:#98a3b3">24 Purchases</div>
<div class="abs nw" style="left:1209.50px;width:120px;top:612.08px;font-size:14.5px;line-height:18px;text-align:right;color:#2b3240">2,624</div>
<svg class="abs" style="left:1123px;top:662.8px" width="38" height="38" viewBox="0 0 38 38"><defs><clipPath id="af5"><rect width="38" height="38" rx="4"/></clipPath><filter id="bl5" x="-10%" y="-10%" width="120%" height="120%"><feGaussianBlur stdDeviation="0.45"/></filter></defs><g clip-path="url(#af5)"><g filter="url(#bl5)"><rect x="-2" y="-2" width="42" height="42" fill="#dcc6b6"/><rect x="28" y="0" width="10" height="38" fill="#eadad0"/><path d="M11 17 Q10 5 19 5 Q29 5 28 16 Q25 10 19 11 Q13 10 11 17 Z" fill="#b7652e"/><ellipse cx="19" cy="17" rx="5.6" ry="7" fill="#efcbb4"/><path d="M16.5 21 Q19 22.5 21.5 21" stroke="#b33a3a" stroke-width="1" fill="none"/><path d="M4 40 Q5 28 19 27 Q33 28 34 40 Z" fill="#eef0f2"/></g></g></svg>
<div class="abs nw" style="left:1173.30px;top:664.95px;font-size:14px;line-height:18px;color:#1d2433;-webkit-text-stroke:.45px #1d2433;letter-spacing:.5px">Selena Deoyl</div>
<div class="abs nw" style="left:1173.30px;top:685.14px;font-size:12px;line-height:15px;color:#98a3b3">12 Purchases</div>
<div class="abs nw" style="left:1209.50px;width:120px;top:673.08px;font-size:14.5px;line-height:18px;text-align:right;color:#2b3240">$1,035</div>
<svg class="abs" style="left:1123px;top:724px" width="38" height="38" viewBox="0 0 38 38"><defs><clipPath id="af6"><rect width="38" height="38" rx="4"/></clipPath><filter id="bl6" x="-10%" y="-10%" width="120%" height="120%"><feGaussianBlur stdDeviation="0.45"/></filter></defs><g clip-path="url(#af6)"><g filter="url(#bl6)"><rect x="-2" y="-2" width="42" height="42" fill="#a3a3a3"/><rect x="0" y="0" width="38" height="12" fill="#b5b5b5"/><path d="M12.5 13 Q12 5 19 5 Q26 5 25.5 13 Z" fill="#2a211c"/><ellipse cx="19" cy="16" rx="5.6" ry="7" fill="#d2a48a"/><path d="M13.5 17 Q14 25 19 25 Q24 25 24.5 17 Q22 21 19 21 Q16 21 13.5 17 Z" fill="#4a3226"/><path d="M3 40 Q4 28 19 27 Q34 28 35 40 Z" fill="#5e3a2c"/><path d="M15 27 L19 34 L23 27 Z" fill="#6a6a5e"/></g></g></svg>
<div class="abs nw" style="left:1173.30px;top:724.95px;font-size:14px;line-height:18px;color:#1d2433;-webkit-text-stroke:.45px #1d2433;letter-spacing:.5px">Charlie</div>
<div class="abs nw" style="left:1173.30px;top:744.75px;font-size:14px;line-height:18px;color:#1d2433;-webkit-text-stroke:.45px #1d2433;letter-spacing:.5px">Davieson</div>
<div class="abs nw" style="left:1173.30px;top:764.04px;font-size:12px;line-height:15px;color:#98a3b3">15 Purchases</div>
<div class="abs nw" style="left:1209.50px;width:120px;top:743.28px;font-size:14.5px;line-height:18px;text-align:right;color:#2b3240">$1,835</div>
<div class="card" style="left:1375px;top:337px;width:257px;height:471px"><div class="ch"><div class="ct" style="letter-spacing:0.36px">Sale Value</div><div class="keb"><i style="top:10.5px"></i><i style="top:14.5px"></i><i style="top:18.5px"></i></div></div></div>
<svg class="abs" style="left:0;top:0" width="1920" height="800" viewBox="0 0 1920 800"><path d="M1503.30 431.20 A102.5 102.5 0 0 1 1532.24 632.03" stroke="#5c67f7" stroke-width="25" fill="none"/><path d="M1532.24 632.03 A102.5 102.5 0 0 1 1401.68 547.08" stroke="#60a5fa" stroke-width="25" fill="none"/><path d="M1401.68 547.08 A102.5 102.5 0 0 1 1503.30 431.20" stroke="#5c67f7" stroke-width="25" fill="none"/><line x1="1503.3" x2="1503.3" y1="417.70000000000005" y2="444.70000000000005" stroke="#fff" stroke-width="1"/><circle cx="1503.7" cy="535" r="74.6" fill="none" stroke="#5c67f7" stroke-width="1.8" stroke-dasharray="5.2 4.2"/></svg>
<div class="abs nw" style="left:1453.30px;width:100px;top:523.00px;font-size:20.5px;line-height:26px;font-weight:bold;text-align:center;color:#3d4756">75%</div>
<div class="abs" style="left:1376px;top:673px;width:254px;height:1px;background:#e6eaf1"></div>
<div class="abs" style="left:1503px;top:673px;width:1px;height:133px;background:#e6eaf1"></div>
<div class="abs nw" style="left:1379.50px;width:120px;top:695.45px;font-size:14px;line-height:18px;text-align:center;color:#6d7684;letter-spacing:.25px">Sale Items</div>
<div class="abs nw" style="left:1379.50px;width:120px;top:714.68px;font-size:24px;line-height:30px;text-align:center;color:#1d2433;letter-spacing:.8px;-webkit-text-stroke:.3px #1d2433">567</div>
<div class="abs nw" style="left:1379.50px;width:120px;top:747.15px;font-size:14px;line-height:18px;text-align:center;color:#26bf6a;-webkit-text-stroke:.2px #26bf6a;letter-spacing:.45px"><svg style="display:inline-block;vertical-align:middle;margin-right:3px;position:relative;top:-1px" width="9" height="6" viewBox="0 0 9 6"><path d="M0.5 5.5 L4.5 1 L8.5 5.5 Z" fill="#26bf6a"/></svg>0.23%</div>
<div class="abs nw" style="left:1507.00px;width:120px;top:695.45px;font-size:14px;line-height:18px;text-align:center;color:#6d7684">Sale</div>
<div class="abs nw" style="left:1507.00px;width:120px;top:714.95px;font-size:14px;line-height:18px;text-align:center;color:#6d7684">Revenue</div>
<div class="abs nw" style="left:1507.00px;width:120px;top:735.28px;font-size:24px;line-height:30px;text-align:center;color:#1d2433;letter-spacing:-.3px;-webkit-text-stroke:.3px #1d2433">$11,197</div>
<div class="abs nw" style="left:1507.00px;width:120px;top:766.85px;font-size:14px;line-height:18px;text-align:center;color:#ee335e;-webkit-text-stroke:.2px #ee335e;letter-spacing:.45px"><svg style="display:inline-block;vertical-align:middle;margin-right:3px;position:relative;top:0px" width="9" height="6" viewBox="0 0 9 6"><path d="M0.5 0.5 L4.5 5 L8.5 0.5 Z" fill="#ee335e"/></svg>0.15%</div><div class="card" style="left:544px;top:832px;width:257px;height:558px"><div class="ch"><div class="ct" style="letter-spacing:0.7px">Upcoming Products</div><div class="keb"><i style="top:10.5px"></i><i style="top:14.5px"></i><i style="top:18.5px"></i></div></div></div>
<svg class="abs" style="left:569px;top:923px" width="36" height="38" viewBox="0 0 40 40" preserveAspectRatio="none"><circle cx="20" cy="20" r="19.5" fill="#cbc6bf"/><circle cx="20" cy="20" r="14" fill="#d6d2cc"/><rect x="15.3" y="10.5" width="9.4" height="19" rx="1.2" fill="#fff" stroke="#1a1a1a" stroke-width="1.3"/></svg>
<div class="abs nw" style="left:612.90px;top:915.35px;font-size:14px;line-height:18px;color:#1d2433;-webkit-text-stroke:.45px #1d2433;letter-spacing:.5px">Smart</div>
<div class="abs nw" style="left:612.90px;top:935.15px;font-size:14px;line-height:18px;color:#1d2433;-webkit-text-stroke:.45px #1d2433;letter-spacing:.5px">Phone</div>
<div class="abs nw" style="left:612.90px;top:954.14px;font-size:12px;line-height:15px;color:#98a3b3;letter-spacing:.4px">Mobiles</div>
<div class="abs nw" style="left:655.50px;width:120px;top:917.15px;font-size:14px;line-height:18px;text-align:right;color:#26bf6a;letter-spacing:.6px;-webkit-text-stroke:.45px #26bf6a">$199.99</div>
<svg class="abs" style="left:722px;top:938.5px" width="10" height="10" viewBox="0 0 10 10" fill="none" stroke="#9aa3b1" stroke-width="1.1"><circle cx="5" cy="5" r="4.3"/><path d="M5 2.6 V5 H7"/></svg>
<div class="abs nw" style="left:695.50px;width:80px;top:935.67px;font-size:12.5px;line-height:16px;text-align:right;color:#8f98a6">01 Apr,</div>
<div class="abs nw" style="left:695.50px;width:80px;top:951.17px;font-size:12.5px;line-height:16px;text-align:right;color:#8f98a6">2023</div>
<svg class="abs" style="left:569px;top:1002px" width="30" height="38" viewBox="0 0 40 40" preserveAspectRatio="none"><ellipse cx="20" cy="20" rx="19" ry="19.5" fill="#ececea"/><path d="M10 24 Q8 10 20 9 Q32 10 30 24" fill="none" stroke="#dcdcd8" stroke-width="3"/><ellipse cx="11" cy="25" rx="3.5" ry="6" fill="#d8d8d4"/><ellipse cx="29" cy="25" rx="3.5" ry="6" fill="#d8d8d4"/></svg>
<div class="abs nw" style="left:607.60px;top:994.25px;font-size:14px;line-height:18px;color:#1d2433;-webkit-text-stroke:.45px #1d2433;letter-spacing:.5px">White</div>
<div class="abs nw" style="left:607.60px;top:1014.05px;font-size:14px;line-height:18px;color:#1d2433;-webkit-text-stroke:.45px #1d2433;letter-spacing:.5px">Headphones</div>
<div class="abs nw" style="left:607.60px;top:1033.04px;font-size:12px;line-height:15px;color:#98a3b3;letter-spacing:.4px">Music</div>
<div class="abs nw" style="left:655.50px;width:120px;top:996.05px;font-size:14px;line-height:18px;text-align:right;color:#26bf6a;letter-spacing:.6px;-webkit-text-stroke:.45px #26bf6a">$79.49</div>
<svg class="abs" style="left:722px;top:1017.4px" width="10" height="10" viewBox="0 0 10 10" fill="none" stroke="#9aa3b1" stroke-width="1.1"><circle cx="5" cy="5" r="4.3"/><path d="M5 2.6 V5 H7"/></svg>
<div class="abs nw" style="left:695.50px;width:80px;top:1014.57px;font-size:12.5px;line-height:16px;text-align:right;color:#8f98a6">01 Apr,</div>
<div class="abs nw" style="left:695.50px;width:80px;top:1030.07px;font-size:12.5px;line-height:16px;text-align:right;color:#8f98a6">2023</div>
<svg class="abs" style="left:569px;top:1080px" width="37" height="38" viewBox="0 0 40 40" preserveAspectRatio="none"><circle cx="20" cy="20" r="19.5" fill="#c6dbf1"/><circle cx="20" cy="21" r="7" fill="#eef4f8" stroke="#7fa6c8" stroke-width="2"/><circle cx="14.5" cy="13.5" r="2.4" fill="#8fb0cc"/><circle cx="25.5" cy="13.5" r="2.4" fill="#8fb0cc"/><path d="M20 17 V21 H23" stroke="#445" stroke-width="1.2" fill="none"/></svg>
<div class="abs nw" style="left:614.40px;top:1073.15px;font-size:14px;line-height:18px;color:#1d2433;-webkit-text-stroke:.45px #1d2433;letter-spacing:.5px">Stop</div>
<div class="abs nw" style="left:614.40px;top:1092.95px;font-size:14px;line-height:18px;color:#1d2433;-webkit-text-stroke:.45px #1d2433;letter-spacing:.5px">Watch</div>
<div class="abs nw" style="left:614.40px;top:1111.94px;font-size:12px;line-height:15px;color:#98a3b3;letter-spacing:.4px">Electronics</div>
<div class="abs nw" style="left:655.50px;width:120px;top:1074.95px;font-size:14px;line-height:18px;text-align:right;color:#26bf6a;letter-spacing:.6px;-webkit-text-stroke:.45px #26bf6a">$49.29</div>
<svg class="abs" style="left:722px;top:1096.3px" width="10" height="10" viewBox="0 0 10 10" fill="none" stroke="#9aa3b1" stroke-width="1.1"><circle cx="5" cy="5" r="4.3"/><path d="M5 2.6 V5 H7"/></svg>
<div class="abs nw" style="left:695.50px;width:80px;top:1093.47px;font-size:12.5px;line-height:16px;text-align:right;color:#8f98a6">01 Apr,</div>
<div class="abs nw" style="left:695.50px;width:80px;top:1108.97px;font-size:12.5px;line-height:16px;text-align:right;color:#8f98a6">2023</div>
<svg class="abs" style="left:569px;top:1159px" width="34" height="38" viewBox="0 0 40 40" preserveAspectRatio="none"><circle cx="20" cy="20" r="19.5" fill="#c8eed9"/><path d="M8 12 H30 L31 30 H9 Z" fill="#1d2420"/><rect x="28" y="22" width="7" height="6" fill="#6aa58a"/><circle cx="18" cy="21" r="4" fill="#2f3a33"/></svg>
<div class="abs nw" style="left:611.70px;top:1152.05px;font-size:14px;line-height:18px;color:#1d2433;-webkit-text-stroke:.45px #1d2433;letter-spacing:.5px">Kikon</div>
<div class="abs nw" style="left:611.70px;top:1171.85px;font-size:14px;line-height:18px;color:#1d2433;-webkit-text-stroke:.45px #1d2433;letter-spacing:.5px">Camera</div>
<div class="abs nw" style="left:611.70px;top:1190.84px;font-size:12px;line-height:15px;color:#98a3b3;letter-spacing:.4px">Electronics</div>
<div class="abs nw" style="left:655.50px;width:120px;top:1153.85px;font-size:14px;line-height:18px;text-align:right;color:#26bf6a;letter-spacing:.6px;-webkit-text-stroke:.45px #26bf6a">$1,699.00</div>
<svg class="abs" style="left:722px;top:1175.2px" width="10" height="10" viewBox="0 0 10 10" fill="none" stroke="#9aa3b1" stroke-width="1.1"><circle cx="5" cy="5" r="4.3"/><path d="M5 2.6 V5 H7"/></svg>
<div class="abs nw" style="left:695.50px;width:80px;top:1172.37px;font-size:12.5px;line-height:16px;text-align:right;color:#8f98a6">01 Apr,</div>
<div class="abs nw" style="left:695.50px;width:80px;top:1187.87px;font-size:12.5px;line-height:16px;text-align:right;color:#8f98a6">2023</div>
<svg class="abs" style="left:569px;top:1238px" width="38" height="38" viewBox="0 0 40 40" preserveAspectRatio="none"><circle cx="20" cy="20" r="19.5" fill="#ebbdd0"/><ellipse cx="14" cy="17" rx="5" ry="9" fill="#3a3a40"/><ellipse cx="26" cy="17" rx="5" ry="9" fill="#3a3a40"/><path d="M11 13 H17 M11 16 H17 M23 13 H29 M23 16 H29" stroke="#ddd" stroke-width="1.2"/><circle cx="20" cy="30" r="3" fill="#d9452e"/></svg>
<div class="abs nw" style="left:615.40px;top:1230.95px;font-size:14px;line-height:18px;color:#1d2433;-webkit-text-stroke:.45px #1d2433;letter-spacing:.5px">Kids</div>
<div class="abs nw" style="left:615.40px;top:1250.75px;font-size:14px;line-height:18px;color:#1d2433;-webkit-text-stroke:.45px #1d2433;letter-spacing:.5px">shoes</div>
<div class="abs nw" style="left:615.40px;top:1269.74px;font-size:12px;line-height:15px;color:#98a3b3;letter-spacing:.4px">Clothing</div>
<div class="abs nw" style="left:655.50px;width:120px;top:1232.75px;font-size:14px;line-height:18px;text-align:right;color:#26bf6a;letter-spacing:.6px;-webkit-text-stroke:.45px #26bf6a">$149.00</div>
<svg class="abs" style="left:722px;top:1254.1px" width="10" height="10" viewBox="0 0 10 10" fill="none" stroke="#9aa3b1" stroke-width="1.1"><circle cx="5" cy="5" r="4.3"/><path d="M5 2.6 V5 H7"/></svg>
<div class="abs nw" style="left:695.50px;width:80px;top:1251.27px;font-size:12.5px;line-height:16px;text-align:right;color:#8f98a6">01 Apr,</div>
<div class="abs nw" style="left:695.50px;width:80px;top:1266.77px;font-size:12.5px;line-height:16px;text-align:right;color:#8f98a6">2023</div>
<svg class="abs" style="left:569px;top:1317px" width="36" height="38" viewBox="0 0 40 40" preserveAspectRatio="none"><circle cx="20" cy="20" r="19.5" fill="#d3e5f1"/><rect x="13" y="10" width="15" height="20" fill="none" stroke="#c8b38a" stroke-width="2"/><circle cx="11.5" cy="10.5" r="3" fill="#d9382a"/><circle cx="29" cy="29" r="3" fill="#d9382a"/><path d="M7 12 L10 10 M31 31 L33 28" stroke="#2f7a3a" stroke-width="2"/></svg>
<div class="abs nw" style="left:613.40px;top:1309.85px;font-size:14px;line-height:18px;color:#1d2433;-webkit-text-stroke:.45px #1d2433;letter-spacing:.5px">Photo</div>
<div class="abs nw" style="left:613.40px;top:1329.65px;font-size:14px;line-height:18px;color:#1d2433;-webkit-text-stroke:.45px #1d2433;letter-spacing:.5px">Frame</div>
<div class="abs nw" style="left:613.40px;top:1348.64px;font-size:12px;line-height:15px;color:#98a3b3;letter-spacing:.4px">Furniture</div>
<div class="abs nw" style="left:655.50px;width:120px;top:1311.65px;font-size:14px;line-height:18px;text-align:right;color:#26bf6a;letter-spacing:.6px;-webkit-text-stroke:.45px #26bf6a">$29.99</div>
<svg class="abs" style="left:722px;top:1333.0px" width="10" height="10" viewBox="0 0 10 10" fill="none" stroke="#9aa3b1" stroke-width="1.1"><circle cx="5" cy="5" r="4.3"/><path d="M5 2.6 V5 H7"/></svg>
<div class="abs nw" style="left:695.50px;width:80px;top:1330.17px;font-size:12.5px;line-height:16px;text-align:right;color:#8f98a6">01 Apr,</div>
<div class="abs nw" style="left:695.50px;width:80px;top:1345.67px;font-size:12.5px;line-height:16px;text-align:right;color:#8f98a6">2023</div>
<div class="card" style="left:821px;top:832px;width:349px;height:458px"><div class="ch" style="height:54.5px"><div class="ct" style="letter-spacing:0.62px">Social Visitors</div><div class="abs" style="right:16px;top:12px;width:116px;height:29px;border:1px solid #e3e7ee;border-radius:4px;box-shadow:0 1px 2px rgba(0,0,0,.05);background:#fff"><div class="abs nw" style="left:13px;top:6px;font-size:14px;line-height:16px;color:#8d99ab">This Week</div><svg class="abs" style="left:92px;top:10px" width="10" height="8" viewBox="0 0 10 8" fill="none" stroke="#8d99ab" stroke-width="1.4"><path d="M2 2.5 L5 5.5 L8 2.5"/></svg></div></div></div>
<svg class="abs" style="left:0;top:0" width="1920" height="1300" viewBox="0 0 1920 1300"><defs><linearGradient id="sg" x1="0" x2="1" y1="0" y2="0"><stop offset="0" stop-color="#61a5f8"/><stop offset="1" stop-color="#5c67f7"/></linearGradient></defs><line x1="914" x2="914" y1="927" y2="1228" stroke="#e4e8ee" stroke-width="1"/><line x1="914" x2="1136" y1="1228" y2="1228" stroke="#e4e8ee" stroke-width="1"/><path d="M914 933.80 H970.39 Q973.39 933.80 973.39 936.80 V965.80 Q973.39 968.80 970.39 968.80 H914 Z" fill="url(#sg)"/><path d="M914 984.15 H980.78 Q983.78 984.15 983.78 987.15 V1016.15 Q983.78 1019.15 980.78 1019.15 H914 Z" fill="url(#sg)"/><path d="M914 1034.50 H991.17 Q994.17 1034.50 994.17 1037.50 V1066.50 Q994.17 1069.50 991.17 1069.50 H914 Z" fill="url(#sg)"/><path d="M914 1084.85 H1013.44 Q1016.44 1084.85 1016.44 1087.85 V1116.85 Q1016.44 1119.85 1013.44 1119.85 H914 Z" fill="url(#sg)"/><path d="M914 1135.20 H1074.31 Q1077.31 1135.20 1077.31 1138.20 V1167.20 Q1077.31 1170.20 1074.31 1170.20 H914 Z" fill="url(#sg)"/><path d="M914 1185.55 H1115.88 Q1118.88 1185.55 1118.88 1188.55 V1217.55 Q1118.88 1220.55 1115.88 1220.55 H914 Z" fill="url(#sg)"/></svg>
<div class="abs nw" style="left:799.30px;width:100px;top:941.64px;font-size:12px;line-height:15px;font-weight:bold;text-align:right;color:#5b6a7e">Facebook</div>
<div class="abs nw" style="left:799.30px;width:100px;top:991.99px;font-size:12px;line-height:15px;font-weight:bold;text-align:right;color:#5b6a7e">Instagram</div>
<div class="abs nw" style="left:799.30px;width:100px;top:1042.34px;font-size:12px;line-height:15px;font-weight:bold;text-align:right;color:#5b6a7e">Dribble</div>
<div class="abs nw" style="left:799.30px;width:100px;top:1092.69px;font-size:12px;line-height:15px;font-weight:bold;text-align:right;color:#5b6a7e">Twitter</div>
<div class="abs nw" style="left:799.30px;width:100px;top:1143.04px;font-size:12px;line-height:15px;font-weight:bold;text-align:right;color:#5b6a7e">Chrome</div>
<div class="abs nw" style="left:799.30px;width:100px;top:1193.39px;font-size:12px;line-height:15px;font-weight:bold;text-align:right;color:#5b6a7e">Pininterest</div>
<div class="abs nw" style="left:888.60px;width:50px;top:1238.84px;font-size:12px;line-height:15px;font-weight:bold;text-align:center;color:#5b6a7e">0</div>
<div class="abs nw" style="left:933.14px;width:50px;top:1238.84px;font-size:12px;line-height:15px;font-weight:bold;text-align:center;color:#5b6a7e">300</div>
<div class="abs nw" style="left:977.68px;width:50px;top:1238.84px;font-size:12px;line-height:15px;font-weight:bold;text-align:center;color:#5b6a7e">600</div>
<div class="abs nw" style="left:1022.22px;width:50px;top:1238.84px;font-size:12px;line-height:15px;font-weight:bold;text-align:center;color:#5b6a7e">900</div>
<div class="abs nw" style="left:1066.76px;width:50px;top:1238.84px;font-size:12px;line-height:15px;font-weight:bold;text-align:center;color:#5b6a7e">1200</div>
<div class="abs nw" style="left:1111.30px;width:50px;top:1238.84px;font-size:12px;line-height:15px;font-weight:bold;text-align:center;color:#5b6a7e">1500</div>
<div class="card" style="left:1190px;top:832px;width:442px;height:459px"><div class="ch"><div class="ct" style="letter-spacing:0.58px">Top Selling Products</div><div class="keb"><i style="top:10.5px"></i><i style="top:14.5px"></i><i style="top:18.5px"></i></div></div></div>
<div class="abs" style="left:1191px;top:889px;width:439px;height:38px;background:#f8fafc;border-bottom:1px solid #e8ecf2"></div>
<div class="abs nw" style="left:1202.00px;top:900.97px;font-size:12.5px;line-height:16px;color:#3b4863;letter-spacing:-.25px;-webkit-text-stroke:.35px #3b4863">PRODUCT</div>
<div class="abs nw" style="left:1487.30px;top:900.97px;font-size:12.5px;line-height:16px;color:#3b4863;letter-spacing:-.25px;-webkit-text-stroke:.35px #3b4863">CATEGORY</div>
<div class="abs nw" style="left:1574.30px;top:900.97px;font-size:12.5px;line-height:16px;color:#3b4863;letter-spacing:-.25px;-webkit-text-stroke:.35px #3b4863">STOCK</div>
<div class="abs" style="left:1191px;top:927px;width:440px;height:364px;overflow:hidden">
<div class="abs" style="left:0;top:59.6px;width:440px;height:1px;background:#e8ecf2"></div>
<div class="abs" style="left:11px;top:11px;width:38px;height:38px;border-radius:19px;background:#eef2f7"></div><svg class="abs" style="left:11px;top:11px" width="38" height="38" viewBox="-3 -3 44 44"><path d="M12 16 Q12 9 19 9 Q26 9 26 16 V27 Q26 29 24 29 H14 Q12 29 12 27 Z" fill="#2c7d92"/><rect x="14" y="19" width="10" height="6" rx="1" fill="#1f5f70"/><path d="M16 11 L23 10" stroke="#e8803a" stroke-width="2"/></svg>
<div class="abs nw" style="left:57.20px;top:19.60px;font-size:15px;line-height:19px;color:#2a3141">Ethnic School bag for children ...</div>
<div class="abs nw" style="left:296.30px;top:20.60px;font-size:15px;line-height:19px;color:#3a4353">Bags</div>
<div class="abs nw" style="left:383.3px;top:18.5px;width:80px;height:23px;border-radius:4px;background:#e6f8ee;color:#26bf6a;font-size:13px;line-height:23px;padding-left:12px">In Stock</div>
<div class="abs" style="left:0;top:119.4px;width:440px;height:1px;background:#e8ecf2"></div>
<div class="abs" style="left:11px;top:71px;width:38px;height:38px;border-radius:19px;background:#eef2f7"></div><svg class="abs" style="left:11px;top:71px" width="38" height="38" viewBox="-3 -3 44 44"><path d="M13 10 L19 12 L25 10 L28 28 H10 Z" fill="#202226"/><path d="M19 12 V28" stroke="#555" stroke-width="1"/></svg>
<div class="abs nw" style="left:57.20px;top:79.40px;font-size:15px;line-height:19px;color:#2a3141">Leather jacket for men (S,M,L,...</div>
<div class="abs nw" style="left:296.30px;top:80.40px;font-size:15px;line-height:19px;color:#3a4353">Clothing</div>
<div class="abs nw" style="left:383.3px;top:78.3px;width:80px;height:23px;border-radius:4px;background:#e6f8ee;color:#26bf6a;font-size:13px;line-height:23px;padding-left:12px">In Stock</div>
<div class="abs" style="left:0;top:179.2px;width:440px;height:1px;background:#e8ecf2"></div>
<div class="abs" style="left:11px;top:131px;width:38px;height:38px;border-radius:19px;background:#eef2f7"></div><svg class="abs" style="left:11px;top:131px" width="38" height="38" viewBox="-3 -3 44 44"><circle cx="19" cy="14" r="5" fill="#d6a35c"/><ellipse cx="19" cy="24" rx="7" ry="6" fill="#b9d3ec"/><circle cx="19" cy="23" r="2" fill="#e0463a"/><circle cx="13" cy="28" r="2.5" fill="#d6a35c"/><circle cx="25" cy="28" r="2.5" fill="#d6a35c"/></svg>
<div class="abs nw" style="left:57.20px;top:139.20px;font-size:15px;line-height:19px;color:#2a3141">Childrens Teddy toy of high qu...</div>
<div class="abs nw" style="left:296.30px;top:140.20px;font-size:15px;line-height:19px;color:#3a4353">Toys</div>
<div class="abs nw" style="left:383.3px;top:138.1px;width:80px;height:23px;border-radius:4px;background:#fde8ec;color:#ee335e;font-size:13px;line-height:23px;padding-left:12px">Out Of Stock</div>
<div class="abs" style="left:0;top:239.0px;width:440px;height:1px;background:#e8ecf2"></div>
<div class="abs" style="left:11px;top:191px;width:38px;height:38px;border-radius:19px;background:#eef2f7"></div><svg class="abs" style="left:11px;top:191px" width="38" height="38" viewBox="-3 -3 44 44"><rect x="16" y="10" width="11" height="18" rx="5" fill="#ef5a55"/><rect x="11" y="13" width="9" height="12" rx="2" fill="#1a1a1a"/></svg>
<div class="abs nw" style="left:57.20px;top:199.00px;font-size:15px;line-height:19px;color:#2a3141">Orange smart watch (24mm)</div>
<div class="abs nw" style="left:296.30px;top:200.00px;font-size:15px;line-height:19px;color:#3a4353">Fashion</div>
<div class="abs nw" style="left:383.3px;top:197.9px;width:80px;height:23px;border-radius:4px;background:#fde8ec;color:#ee335e;font-size:13px;line-height:23px;padding-left:12px">Out Of Stock</div>
<div class="abs" style="left:0;top:298.8px;width:440px;height:1px;background:#e8ecf2"></div>
<div class="abs" style="left:11px;top:251px;width:38px;height:38px;border-radius:19px;background:#eef2f7"></div><svg class="abs" style="left:11px;top:251px" width="38" height="38" viewBox="-3 -3 44 44"><rect x="10" y="14" width="18" height="12" rx="2" fill="#1a1a1a"/><rect x="13" y="11" width="6" height="4" fill="#222"/><circle cx="23" cy="22" r="4.5" fill="#333" stroke="#111" stroke-width="1"/><circle cx="23" cy="22" r="2" fill="#c9a23a"/></svg>
<div class="abs nw" style="left:57.20px;top:258.80px;font-size:15px;line-height:19px;color:#2a3141">Black Camera</div>
<div class="abs nw" style="left:296.30px;top:259.80px;font-size:15px;line-height:19px;color:#3a4353">Electronic</div>
<div class="abs nw" style="left:383.3px;top:257.7px;width:80px;height:23px;border-radius:4px;background:#e6f8ee;color:#26bf6a;font-size:13px;line-height:23px;padding-left:12px">In Stock</div>
<div class="abs" style="left:11px;top:310px;width:38px;height:38px;border-radius:19px;background:#eef2f7"></div><svg class="abs" style="left:11px;top:310px" width="38" height="38" viewBox="-3 -3 44 44"><path d="M10 19 H28 L27 29 H11 Z" fill="#a8334a"/><path d="M14 19 Q14 12 19 12 Q24 12 24 19" fill="none" stroke="#8a2638" stroke-width="2"/></svg>
<div class="abs nw" style="left:57.20px;top:318.60px;font-size:15px;line-height:19px;color:#2a3141">Hand Bag For Ladies</div>
<div class="abs nw" style="left:296.30px;top:319.60px;font-size:15px;line-height:19px;color:#3a4353">Fashion</div>
<div class="abs nw" style="left:383.3px;top:317.5px;width:80px;height:23px;border-radius:4px;background:#fde8ec;color:#ee335e;font-size:13px;line-height:23px;padding-left:12px">Out Of Stock</div>
<div class="abs" style="left:0;top:359.5px;width:440px;height:4.5px;background:#f1f3f6"></div>
<div class="abs" style="left:0;top:359.5px;width:329px;height:4.5px;background:#cdd5e0;border-radius:2px"></div>
</div><div class="card" style="left:544px;top:1414px;width:1087.5px;height:625px"><div class="ch" style="height:55.5px"><div class="ct" style="letter-spacing:0.5px">Recent Order Details</div><div class="abs" style="right:17.5px;top:11px;width:101px;height:29.5px;border:1px solid #e3e7ee;border-radius:4px;box-shadow:0 1px 2px rgba(0,0,0,.05);background:#fff"><div class="abs nw" style="left:13px;top:6.5px;font-size:14.5px;line-height:16px;color:#8d99ab">View All</div><svg class="abs" style="left:76px;top:11px" width="10" height="8" viewBox="0 0 10 8" fill="none" stroke="#8d99ab" stroke-width="1.4"><path d="M2 2.5 L5 5.5 L8 2.5"/></svg></div></div></div>
<div class="abs" style="left:569.5px;top:1494.4px;width:1037px;height:520px;overflow:hidden">
<div class="abs" style="left:0;top:0;width:1100px;height:41px;background:#f8fafc"></div>
<div class="abs" style="left:0;top:0;width:1100px;height:515px;border:1px solid #e6eaf0;border-right:none"></div>
<div class="abs" style="left:77.8px;top:0;width:1px;height:515px;background:#e6eaf0"></div>
<div class="abs" style="left:334.9px;top:0;width:1px;height:515px;background:#e6eaf0"></div>
<div class="abs" style="left:468px;top:0;width:1px;height:515px;background:#e6eaf0"></div>
<div class="abs" style="left:767.9px;top:0;width:1px;height:515px;background:#e6eaf0"></div>
<div class="abs" style="left:907.9px;top:0;width:1px;height:515px;background:#e6eaf0"></div>
<div class="abs" style="left:1036px;top:0;width:1px;height:515px;background:#e6eaf0"></div>
<div class="abs" style="left:0;top:41.0px;width:1100px;height:1px;background:#e6eaf0"></div>
<div class="abs" style="left:0;top:120.0px;width:1100px;height:1px;background:#e6eaf0"></div>
<div class="abs" style="left:0;top:199.0px;width:1100px;height:1px;background:#e6eaf0"></div>
<div class="abs" style="left:0;top:278.0px;width:1100px;height:1px;background:#e6eaf0"></div>
<div class="abs" style="left:0;top:357.0px;width:1100px;height:1px;background:#e6eaf0"></div>
<div class="abs" style="left:0;top:436.0px;width:1100px;height:1px;background:#e6eaf0"></div>
<div class="abs nw" style="left:24.60px;top:12.47px;font-size:12.5px;line-height:16px;color:#3b4863;letter-spacing:-.25px;-webkit-text-stroke:.35px #3b4863">S.NO</div>
<div class="abs nw" style="left:103.10px;top:12.47px;font-size:12.5px;line-height:16px;color:#3b4863;letter-spacing:-.25px;-webkit-text-stroke:.35px #3b4863">ITEM DETAILS</div>
<div class="abs nw" style="left:360.50px;top:12.47px;font-size:12.5px;line-height:16px;color:#3b4863;letter-spacing:-.25px;-webkit-text-stroke:.35px #3b4863">CUSTOMER ID</div>
<div class="abs nw" style="left:492.50px;top:12.47px;font-size:12.5px;line-height:16px;color:#3b4863;letter-spacing:-.25px;-webkit-text-stroke:.35px #3b4863">CUSTOMER DETAILS</div>
<div class="abs nw" style="left:792.70px;top:12.47px;font-size:12.5px;line-height:16px;color:#3b4863;letter-spacing:-.25px;-webkit-text-stroke:.35px #3b4863">ORDERED DATE</div>
<div class="abs nw" style="left:932.40px;top:12.47px;font-size:12.5px;line-height:16px;color:#3b4863;letter-spacing:-.25px;-webkit-text-stroke:.35px #3b4863">STATUS</div>
<div class="abs nw" style="left:24.60px;top:71.48px;font-size:14.5px;line-height:18px;color:#2b3240">1</div>
<div class="abs" style="left:102.8px;top:58px;width:45px;height:45px;border-radius:5px;background:#eef2f8"></div><svg class="abs" style="left:102.8px;top:58px" width="45" height="45" viewBox="0 0 45 45"><path d="M9.5 12 L14 11 L16.5 17 L22.5 28.5 L18.5 34 L14 27 L11 19 Z" fill="#141414"/><path d="M10.5 15 L13.2 31.5 L14.4 31.3 L13.5 20 Z" fill="#141414"/><path d="M16.5 34 Q26 35 36 30.5 L34.5 28.2 Q27 31 19.5 31 Z" fill="#1a1a1a"/><path d="M12 11.2 L27 10.6" stroke="#141414" stroke-width="1.5"/><path d="M18 17 L30 28.5" stroke="#2a2a2a" stroke-width="2.2"/><path d="M29 27 L31.5 24.5" stroke="#141414" stroke-width="1.8"/></svg>
<div class="abs nw" style="left:161.10px;top:64.08px;font-size:14.5px;line-height:18px;color:#1d2433;letter-spacing:.1px;-webkit-text-stroke:.45px #1d2433">Black Heals For Women</div>
<div class="abs nw" style="left:161.10px;top:82.47px;font-size:12.5px;line-height:16px;color:#98a3b3">#2343</div>
<div class="abs nw" style="left:360.50px;top:71.48px;font-size:14.5px;line-height:18px;color:#26bf6a;letter-spacing:.3px">#user1</div>
<svg class="abs" style="left:492.5px;top:62px" width="38" height="38" viewBox="0 0 38 38"><defs><clipPath id="af7"><rect width="38" height="38" rx="3"/></clipPath><filter id="bl7" x="-10%" y="-10%" width="120%" height="120%"><feGaussianBlur stdDeviation="0.45"/></filter></defs><g clip-path="url(#af7)"><g filter="url(#bl7)"><rect x="-2" y="-2" width="42" height="42" fill="#d5d8d6"/><rect x="0" y="0" width="6" height="38" fill="#eef0ee"/><rect x="30" y="0" width="8" height="38" fill="#c4c8c6"/><path d="M10 22 Q8 5 19 5 Q30 5 28 20 L30 30 H11 Z" fill="#3b2620"/><ellipse cx="19.5" cy="15.5" rx="5.2" ry="6.8" fill="#e7c0a8"/><path d="M7 40 L10 27 Q14 24 19 25 Q26 24 30 28 L33 40 Z" fill="#1d1d1f"/><path d="M17 26 L19 38 L21 26 Z" fill="#eaeef2"/><path d="M12 22 Q14 19 17 21 L17 25 Q14 26 12 24 Z" fill="#e2b89e"/></g></g></svg>
<div class="abs nw" style="left:542.50px;top:64.18px;font-size:14.5px;line-height:18px;color:#1d2433;letter-spacing:.3px;-webkit-text-stroke:.45px #1d2433">Socrates Itumay</div>
<div class="abs nw" style="left:542.50px;top:82.37px;font-size:12.5px;line-height:16px;color:#98a3b3">socratesitumay@gmail.com</div>
<div class="abs nw" style="left:792.70px;top:70.80px;font-size:15px;line-height:19px;color:#2b3240">10-12-2022</div>
<div class="abs nw" style="left:932.4px;top:66.7px;width:71.3px;height:24px;border-radius:12px;background:#e4f7ec;color:#26bf6a;font-size:12.5px;line-height:24px;text-align:center">Success</div>
<div class="abs nw" style="left:24.60px;top:150.48px;font-size:14.5px;line-height:18px;color:#2b3240">2</div>
<div class="abs" style="left:102.8px;top:137px;width:45px;height:45px;border-radius:5px;background:#eef2f8"></div><svg class="abs" style="left:102.8px;top:137px" width="45" height="45" viewBox="0 0 45 45"><path d="M16.5 11 L20.5 10 Q22.5 12 24.5 10 L28.5 11 L31.5 16 L32.5 33 L29.5 33 L29.5 20 L28.5 34 L16.5 34 L15.5 20 L15.5 33 L12.5 33 L13.5 16 Z" fill="#fbfbfb" stroke="#dcdcdc" stroke-width=".8"/><path d="M21.5 11 L22.5 14 L23.5 11" stroke="#333" stroke-width="1" fill="none"/></svg>
<div class="abs nw" style="left:161.10px;top:143.08px;font-size:14.5px;line-height:18px;color:#1d2433;letter-spacing:.1px;-webkit-text-stroke:.45px #1d2433">White Tshirt</div>
<div class="abs nw" style="left:161.10px;top:161.47px;font-size:12.5px;line-height:16px;color:#98a3b3">#5655</div>
<div class="abs nw" style="left:360.50px;top:150.48px;font-size:14.5px;line-height:18px;color:#26bf6a;letter-spacing:.3px">#user2</div>
<svg class="abs" style="left:492.5px;top:140px" width="38" height="38" viewBox="0 0 38 38"><defs><clipPath id="af8"><rect width="38" height="38" rx="3"/></clipPath><filter id="bl8" x="-10%" y="-10%" width="120%" height="120%"><feGaussianBlur stdDeviation="0.45"/></filter></defs><g clip-path="url(#af8)"><g filter="url(#bl8)"><rect x="-2" y="-2" width="42" height="42" fill="#4a3a34"/><circle cx="4" cy="6" r="4" fill="#c9b8a0"/><circle cx="34" cy="8" r="4" fill="#b09880"/><circle cx="33" cy="20" r="3" fill="#8a7060"/><path d="M9 26 Q7 4 19 5 Q31 4 30 26 Z" fill="#24160f"/><ellipse cx="19" cy="16" rx="5.8" ry="7.2" fill="#e4ad90"/><path d="M16 19.5 Q19 22 22 19.5" stroke="#fff" stroke-width="1.2" fill="none"/><path d="M4 40 Q5 27 19 26 Q33 27 34 40 Z" fill="#a8142a"/><rect x="17" y="22" width="4" height="4" fill="#d9a083"/></g></g></svg>
<div class="abs nw" style="left:542.50px;top:143.18px;font-size:14.5px;line-height:18px;color:#1d2433;letter-spacing:.3px;-webkit-text-stroke:.45px #1d2433">Json Taylor</div>
<div class="abs nw" style="left:542.50px;top:161.37px;font-size:12.5px;line-height:16px;color:#98a3b3">jsontaylor2416@gmail.com</div>
<div class="abs nw" style="left:792.70px;top:149.80px;font-size:15px;line-height:19px;color:#2b3240">11-12-2022</div>
<div class="abs nw" style="left:932.4px;top:145.7px;width:73.6px;height:24px;border-radius:12px;background:#e9eefb;color:#6d83d8;font-size:12.5px;line-height:24px;text-align:center">Shipping</div>
<div class="abs nw" style="left:24.60px;top:229.48px;font-size:14.5px;line-height:18px;color:#2b3240">3</div>
<div class="abs" style="left:102.8px;top:216px;width:44px;height:45px;border-radius:5px;background:#eef2f8"></div><svg class="abs" style="left:102.8px;top:216px" width="44" height="45" viewBox="0 0 44 45"><path d="M14.0 12 L20.0 9 L24.0 9 L30.0 12 L32.0 34 L12.0 34 Z" fill="#c9ced6"/><path d="M19.0 12 L25.0 12 L26.0 34 L18.0 34 Z" fill="#1e7fa8"/></svg>
<div class="abs nw" style="left:158.90px;top:222.08px;font-size:14.5px;line-height:18px;color:#1d2433;letter-spacing:.1px;-webkit-text-stroke:.45px #1d2433">Jacket For Men</div>
<div class="abs nw" style="left:158.90px;top:240.47px;font-size:12.5px;line-height:16px;color:#98a3b3">#15245</div>
<div class="abs nw" style="left:360.50px;top:229.48px;font-size:14.5px;line-height:18px;color:#26bf6a;letter-spacing:.3px">#user3</div>
<svg class="abs" style="left:492.5px;top:220px" width="38" height="38" viewBox="0 0 38 38"><defs><clipPath id="af9"><rect width="38" height="38" rx="3"/></clipPath><filter id="bl9" x="-10%" y="-10%" width="120%" height="120%"><feGaussianBlur stdDeviation="0.45"/></filter></defs><g clip-path="url(#af9)"><g filter="url(#bl9)"><rect x="-2" y="-2" width="42" height="42" fill="#efb3b6"/><path d="M11 24 Q9 5 19 5 Q29 5 27 24 Z" fill="#5b3426"/><ellipse cx="19" cy="15" rx="5" ry="6.5" fill="#efc6ae"/><path d="M5 40 Q6 28 19 27 Q32 28 33 40 Z" fill="#f7d8d0"/><path d="M14 24 Q16 20 19 22 L19 26 Z" fill="#eabba2"/></g></g></svg>
<div class="abs nw" style="left:542.50px;top:222.18px;font-size:14.5px;line-height:18px;color:#1d2433;letter-spacing:.3px;-webkit-text-stroke:.45px #1d2433">Suzika Stallone</div>
<div class="abs nw" style="left:542.50px;top:240.37px;font-size:12.5px;line-height:16px;color:#98a3b3">suzikastallone3214@gmail.com</div>
<div class="abs nw" style="left:792.70px;top:228.80px;font-size:15px;line-height:19px;color:#2b3240">12-12-2022</div>
<div class="abs nw" style="left:932.4px;top:224.7px;width:115px;height:24px;border-radius:12px;background:#fef5dd;color:#f2b33a;font-size:12.5px;line-height:24px;text-align:center">Out For Delivery</div>
<div class="abs nw" style="left:24.60px;top:308.48px;font-size:14.5px;line-height:18px;color:#2b3240">4</div>
<div class="abs" style="left:102.8px;top:295px;width:45.5px;height:45px;border-radius:5px;background:#eef2f8"></div><svg class="abs" style="left:102.8px;top:295px" width="45.5" height="45" viewBox="0 0 45.5 45"><rect x="10.75" y="11" width="7" height="23" rx="2" fill="#d01820"/><path d="M24.75 16 V31 M29.75 16 V31" stroke="#c8141c" stroke-width="2.5"/><circle cx="24.75" cy="15" r="2.5" fill="#c8141c"/><circle cx="29.75" cy="15" r="2.5" fill="#c8141c"/></svg>
<div class="abs nw" style="left:161.30px;top:301.08px;font-size:14.5px;line-height:18px;color:#1d2433;letter-spacing:.1px;-webkit-text-stroke:.45px #1d2433">Airpods</div>
<div class="abs nw" style="left:161.30px;top:319.47px;font-size:12.5px;line-height:16px;color:#98a3b3">#45415</div>
<div class="abs nw" style="left:360.50px;top:308.48px;font-size:14.5px;line-height:18px;color:#26bf6a;letter-spacing:.3px">#user4</div>
<svg class="abs" style="left:492.5px;top:298px" width="38" height="38" viewBox="0 0 38 38"><defs><clipPath id="af10"><rect width="38" height="38" rx="3"/></clipPath><filter id="bl10" x="-10%" y="-10%" width="120%" height="120%"><feGaussianBlur stdDeviation="0.45"/></filter></defs><g clip-path="url(#af10)"><g filter="url(#bl10)"><rect x="-2" y="-2" width="42" height="42" fill="#dfe6e4"/><rect x="7" y="0" width="6" height="30" fill="#7fb2bd"/><rect x="30" y="0" width="8" height="24" fill="#8fb89a"/><path d="M10 30 Q7 5 19 6 Q31 5 29 30 Z" fill="#cdb898"/><ellipse cx="19" cy="16" rx="5" ry="6.6" fill="#ead0bf"/><path d="M3 40 Q4 27 19 27 Q34 27 35 40 Z" fill="#9aa2a6"/><path d="M16 27 L19 38 L22 27 Z" fill="#f1f1f1"/></g></g></svg>
<div class="abs nw" style="left:542.50px;top:301.18px;font-size:14.5px;line-height:18px;color:#1d2433;letter-spacing:.3px;-webkit-text-stroke:.45px #1d2433">Selena Deoyl</div>
<div class="abs nw" style="left:542.50px;top:319.37px;font-size:12.5px;line-height:16px;color:#98a3b3">selenadeoyl114@gmail.com</div>
<div class="abs nw" style="left:792.70px;top:307.80px;font-size:15px;line-height:19px;color:#2b3240">12-12-2022</div>
<div class="abs nw" style="left:932.4px;top:303.7px;width:80.7px;height:24px;border-radius:12px;background:#fde7ec;color:#ee335e;font-size:12.5px;line-height:24px;text-align:center">Cancelled</div>
<div class="abs nw" style="left:24.60px;top:387.48px;font-size:14.5px;line-height:18px;color:#2b3240">5</div>
<div class="abs" style="left:102.8px;top:374px;width:38px;height:45px;border-radius:5px;background:#eef2f8"></div><svg class="abs" style="left:102.8px;top:374px" width="38" height="45" viewBox="0 0 38 45"><path d="M19.0 14 L25.0 26 Q25.0 33 19.0 33 Q13.0 33 13.0 26 Z" fill="#f0a51c"/><rect x="17.5" y="10" width="3" height="5" fill="#c98a1a"/></svg>
<div class="abs nw" style="left:152.80px;top:380.08px;font-size:14.5px;line-height:18px;color:#1d2433;letter-spacing:.1px;-webkit-text-stroke:.45px #1d2433">Jasmine Fragrance</div>
<div class="abs nw" style="left:152.80px;top:398.47px;font-size:12.5px;line-height:16px;color:#98a3b3">#35656</div>
<div class="abs nw" style="left:360.50px;top:387.48px;font-size:14.5px;line-height:18px;color:#26bf6a;letter-spacing:.3px">#user5</div>
<svg class="abs" style="left:492.5px;top:378px" width="38" height="38" viewBox="0 0 38 38"><defs><clipPath id="af11"><rect width="38" height="38" rx="3"/></clipPath><filter id="bl11" x="-10%" y="-10%" width="120%" height="120%"><feGaussianBlur stdDeviation="0.45"/></filter></defs><g clip-path="url(#af11)"><g filter="url(#bl11)"><rect x="-2" y="-2" width="42" height="42" fill="#8e8e8e"/><rect x="0" y="0" width="38" height="14" fill="#9e9e9e"/><path d="M12.5 13 Q12 4 19 4 Q26 4 25.5 13 Z" fill="#2a211c"/><ellipse cx="19" cy="16" rx="6" ry="7.5" fill="#d8b09a"/><path d="M13.5 18 Q14 26 19 26 Q24 26 24.5 18 Q22 22 19 22 Q16 22 13.5 18 Z" fill="#5a4030"/><rect x="13.8" y="13.5" width="4.2" height="3" rx="1" fill="none" stroke="#222" stroke-width=".9"/><rect x="20" y="13.5" width="4.2" height="3" rx="1" fill="none" stroke="#222" stroke-width=".9"/><path d="M3 40 Q4 29 19 28 Q34 29 35 40 Z" fill="#eeeeee"/></g></g></svg>
<div class="abs nw" style="left:542.50px;top:380.18px;font-size:14.5px;line-height:18px;color:#1d2433;letter-spacing:.3px;-webkit-text-stroke:.45px #1d2433">Roman Killon</div>
<div class="abs nw" style="left:542.50px;top:398.37px;font-size:12.5px;line-height:16px;color:#98a3b3">romankillon143@gmail.com</div>
<div class="abs nw" style="left:792.70px;top:386.80px;font-size:15px;line-height:19px;color:#2b3240">13-12-2022</div>
<div class="abs nw" style="left:932.4px;top:382.7px;width:70.6px;height:24px;border-radius:12px;background:#ebebfd;color:#6c74ef;font-size:12.5px;line-height:24px;text-align:center">Ordered</div>
<div class="abs nw" style="left:24.60px;top:466.48px;font-size:14.5px;line-height:18px;color:#2b3240">6</div>
<div class="abs" style="left:102.8px;top:453px;width:45.5px;height:45px;border-radius:5px;background:#eef2f8"></div><svg class="abs" style="left:102.8px;top:453px" width="45.5" height="45" viewBox="0 0 45.5 45"><ellipse cx="24.75" cy="22.5" rx="8" ry="10" fill="#ef5a55"/><rect x="14.75" y="15" width="9" height="14" rx="2" fill="#1a1a1a"/><rect x="23.75" y="18" width="3" height="9" fill="#ccc"/></svg>
<div class="abs nw" style="left:161.30px;top:459.08px;font-size:14.5px;line-height:18px;color:#1d2433;letter-spacing:.1px;-webkit-text-stroke:.45px #1d2433">Smart Watch</div>
<div class="abs nw" style="left:161.30px;top:477.47px;font-size:12.5px;line-height:16px;color:#98a3b3">#622545</div>
<div class="abs nw" style="left:360.50px;top:466.48px;font-size:14.5px;line-height:18px;color:#26bf6a;letter-spacing:.3px">#user6</div>
<svg class="abs" style="left:492.5px;top:456px" width="38" height="38" viewBox="0 0 38 38"><defs><clipPath id="af12"><rect width="38" height="38" rx="3"/></clipPath><filter id="bl12" x="-10%" y="-10%" width="120%" height="120%"><feGaussianBlur stdDeviation="0.45"/></filter></defs><g clip-path="url(#af12)"><g filter="url(#bl12)"><rect x="-2" y="-2" width="42" height="42" fill="#a3a3a3"/><rect x="0" y="0" width="38" height="12" fill="#b5b5b5"/><path d="M12.5 13 Q12 5 19 5 Q26 5 25.5 13 Z" fill="#2a211c"/><ellipse cx="19" cy="16" rx="5.6" ry="7" fill="#d2a48a"/><path d="M13.5 17 Q14 25 19 25 Q24 25 24.5 17 Q22 21 19 21 Q16 21 13.5 17 Z" fill="#4a3226"/><path d="M3 40 Q4 28 19 27 Q34 28 35 40 Z" fill="#5e3a2c"/><path d="M15 27 L19 34 L23 27 Z" fill="#6a6a5e"/></g></g></svg>
<div class="abs nw" style="left:542.50px;top:459.18px;font-size:14.5px;line-height:18px;color:#1d2433;letter-spacing:.3px;-webkit-text-stroke:.45px #1d2433">Charlie Davieson</div>
<div class="abs nw" style="left:542.50px;top:477.37px;font-size:12.5px;line-height:16px;color:#98a3b3">charliedavieson@gmail.com</div>
<div class="abs nw" style="left:792.70px;top:465.80px;font-size:15px;line-height:19px;color:#2b3240">13-12-2022</div>
<div class="abs nw" style="left:932.4px;top:461.7px;width:65.3px;height:24px;border-radius:12px;background:#e8f3fe;color:#5fa2f3;font-size:12.5px;line-height:24px;text-align:center">Packed</div>
<div class="abs" style="left:0;top:514.6px;width:1037px;height:5.4px;background:#eef1f5"></div>
<div class="abs" style="left:0;top:514.6px;width:810px;height:5.4px;background:#cdd5e0;border-radius:3px"></div>
</div>
<div class="abs" style="left:260px;top:2064px;width:1400px;height:60px;background:#fff;border-top:1px solid #e6eaf0"></div>
<div class="abs nw" style="left:610.00px;width:700px;top:2079.90px;font-size:15px;line-height:19px;text-align:center;color:#5d6675">Copyright &copy; 2023 <span style="color:#5c67f7">Synto</span>. Designed with <span style="color:#f0353f;font-size:16px">&#10084;</span> by <span style="color:#5c67f7">Spruko</span> All rights reserved</div>
<div class="abs" style="left:1848px;top:2039px;width:40px;height:40px;border-radius:6px;background:#5c67f7;box-shadow:0 2px 6px rgba(92,103,247,.3)"><svg class="abs" style="left:14px;top:16px" width="12" height="8" viewBox="0 0 12 8"><path d="M1.5 7 L6 1.5 L10.5 7 Z" fill="#fff"/></svg></div></body></html>
